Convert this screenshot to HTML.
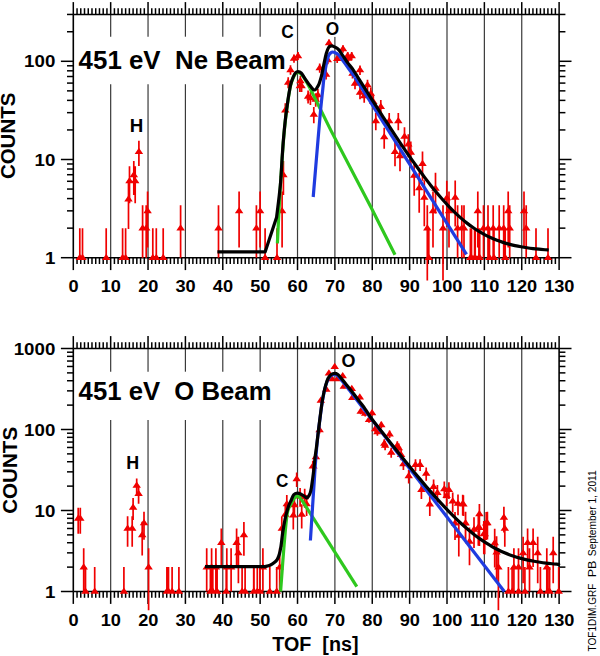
<!DOCTYPE html>
<html><head><meta charset="utf-8"><style>
html,body{margin:0;padding:0;background:#fff;}
svg{display:block;}
</style></head><body>
<svg width="600" height="656" viewBox="0 0 600 656">
<rect width="600" height="656" fill="#fff"/>
<line x1="110.67" y1="14.50" x2="110.67" y2="36.70" stroke="#3a3a3a" stroke-width="1.2"/>
<line x1="110.67" y1="84.20" x2="110.67" y2="257.70" stroke="#3a3a3a" stroke-width="1.2"/>
<line x1="148.04" y1="14.50" x2="148.04" y2="36.70" stroke="#3a3a3a" stroke-width="1.2"/>
<line x1="148.04" y1="84.20" x2="148.04" y2="257.70" stroke="#3a3a3a" stroke-width="1.2"/>
<line x1="185.41" y1="14.50" x2="185.41" y2="36.70" stroke="#3a3a3a" stroke-width="1.2"/>
<line x1="185.41" y1="84.20" x2="185.41" y2="257.70" stroke="#3a3a3a" stroke-width="1.2"/>
<line x1="222.78" y1="14.50" x2="222.78" y2="36.70" stroke="#3a3a3a" stroke-width="1.2"/>
<line x1="222.78" y1="84.20" x2="222.78" y2="257.70" stroke="#3a3a3a" stroke-width="1.2"/>
<line x1="260.15" y1="14.50" x2="260.15" y2="36.70" stroke="#3a3a3a" stroke-width="1.2"/>
<line x1="260.15" y1="84.20" x2="260.15" y2="257.70" stroke="#3a3a3a" stroke-width="1.2"/>
<line x1="297.52" y1="14.50" x2="297.52" y2="257.70" stroke="#3a3a3a" stroke-width="1.2"/>
<line x1="334.89" y1="14.50" x2="334.89" y2="257.70" stroke="#3a3a3a" stroke-width="1.2"/>
<line x1="372.26" y1="14.50" x2="372.26" y2="257.70" stroke="#3a3a3a" stroke-width="1.2"/>
<line x1="409.63" y1="14.50" x2="409.63" y2="257.70" stroke="#3a3a3a" stroke-width="1.2"/>
<line x1="447.00" y1="14.50" x2="447.00" y2="257.70" stroke="#3a3a3a" stroke-width="1.2"/>
<line x1="484.37" y1="14.50" x2="484.37" y2="257.70" stroke="#3a3a3a" stroke-width="1.2"/>
<line x1="521.74" y1="14.50" x2="521.74" y2="257.70" stroke="#3a3a3a" stroke-width="1.2"/>
<line x1="73.30" y1="14.50" x2="73.30" y2="2.10" stroke="#000" stroke-width="1.5"/>
<line x1="73.30" y1="257.70" x2="73.30" y2="270.10" stroke="#000" stroke-width="1.5"/>
<line x1="77.04" y1="14.50" x2="77.04" y2="8.20" stroke="#000" stroke-width="1.5"/>
<line x1="77.04" y1="257.70" x2="77.04" y2="264.00" stroke="#000" stroke-width="1.5"/>
<line x1="80.77" y1="14.50" x2="80.77" y2="8.20" stroke="#000" stroke-width="1.5"/>
<line x1="80.77" y1="257.70" x2="80.77" y2="264.00" stroke="#000" stroke-width="1.5"/>
<line x1="84.51" y1="14.50" x2="84.51" y2="8.20" stroke="#000" stroke-width="1.5"/>
<line x1="84.51" y1="257.70" x2="84.51" y2="264.00" stroke="#000" stroke-width="1.5"/>
<line x1="88.25" y1="14.50" x2="88.25" y2="8.20" stroke="#000" stroke-width="1.5"/>
<line x1="88.25" y1="257.70" x2="88.25" y2="264.00" stroke="#000" stroke-width="1.5"/>
<line x1="91.98" y1="14.50" x2="91.98" y2="8.20" stroke="#000" stroke-width="1.5"/>
<line x1="91.98" y1="257.70" x2="91.98" y2="264.00" stroke="#000" stroke-width="1.5"/>
<line x1="95.72" y1="14.50" x2="95.72" y2="8.20" stroke="#000" stroke-width="1.5"/>
<line x1="95.72" y1="257.70" x2="95.72" y2="264.00" stroke="#000" stroke-width="1.5"/>
<line x1="99.46" y1="14.50" x2="99.46" y2="8.20" stroke="#000" stroke-width="1.5"/>
<line x1="99.46" y1="257.70" x2="99.46" y2="264.00" stroke="#000" stroke-width="1.5"/>
<line x1="103.20" y1="14.50" x2="103.20" y2="8.20" stroke="#000" stroke-width="1.5"/>
<line x1="103.20" y1="257.70" x2="103.20" y2="264.00" stroke="#000" stroke-width="1.5"/>
<line x1="106.93" y1="14.50" x2="106.93" y2="8.20" stroke="#000" stroke-width="1.5"/>
<line x1="106.93" y1="257.70" x2="106.93" y2="264.00" stroke="#000" stroke-width="1.5"/>
<line x1="110.67" y1="14.50" x2="110.67" y2="2.10" stroke="#000" stroke-width="1.5"/>
<line x1="110.67" y1="257.70" x2="110.67" y2="270.10" stroke="#000" stroke-width="1.5"/>
<line x1="114.41" y1="14.50" x2="114.41" y2="8.20" stroke="#000" stroke-width="1.5"/>
<line x1="114.41" y1="257.70" x2="114.41" y2="264.00" stroke="#000" stroke-width="1.5"/>
<line x1="118.14" y1="14.50" x2="118.14" y2="8.20" stroke="#000" stroke-width="1.5"/>
<line x1="118.14" y1="257.70" x2="118.14" y2="264.00" stroke="#000" stroke-width="1.5"/>
<line x1="121.88" y1="14.50" x2="121.88" y2="8.20" stroke="#000" stroke-width="1.5"/>
<line x1="121.88" y1="257.70" x2="121.88" y2="264.00" stroke="#000" stroke-width="1.5"/>
<line x1="125.62" y1="14.50" x2="125.62" y2="8.20" stroke="#000" stroke-width="1.5"/>
<line x1="125.62" y1="257.70" x2="125.62" y2="264.00" stroke="#000" stroke-width="1.5"/>
<line x1="129.35" y1="14.50" x2="129.35" y2="8.20" stroke="#000" stroke-width="1.5"/>
<line x1="129.35" y1="257.70" x2="129.35" y2="264.00" stroke="#000" stroke-width="1.5"/>
<line x1="133.09" y1="14.50" x2="133.09" y2="8.20" stroke="#000" stroke-width="1.5"/>
<line x1="133.09" y1="257.70" x2="133.09" y2="264.00" stroke="#000" stroke-width="1.5"/>
<line x1="136.83" y1="14.50" x2="136.83" y2="8.20" stroke="#000" stroke-width="1.5"/>
<line x1="136.83" y1="257.70" x2="136.83" y2="264.00" stroke="#000" stroke-width="1.5"/>
<line x1="140.57" y1="14.50" x2="140.57" y2="8.20" stroke="#000" stroke-width="1.5"/>
<line x1="140.57" y1="257.70" x2="140.57" y2="264.00" stroke="#000" stroke-width="1.5"/>
<line x1="144.30" y1="14.50" x2="144.30" y2="8.20" stroke="#000" stroke-width="1.5"/>
<line x1="144.30" y1="257.70" x2="144.30" y2="264.00" stroke="#000" stroke-width="1.5"/>
<line x1="148.04" y1="14.50" x2="148.04" y2="2.10" stroke="#000" stroke-width="1.5"/>
<line x1="148.04" y1="257.70" x2="148.04" y2="270.10" stroke="#000" stroke-width="1.5"/>
<line x1="151.78" y1="14.50" x2="151.78" y2="8.20" stroke="#000" stroke-width="1.5"/>
<line x1="151.78" y1="257.70" x2="151.78" y2="264.00" stroke="#000" stroke-width="1.5"/>
<line x1="155.51" y1="14.50" x2="155.51" y2="8.20" stroke="#000" stroke-width="1.5"/>
<line x1="155.51" y1="257.70" x2="155.51" y2="264.00" stroke="#000" stroke-width="1.5"/>
<line x1="159.25" y1="14.50" x2="159.25" y2="8.20" stroke="#000" stroke-width="1.5"/>
<line x1="159.25" y1="257.70" x2="159.25" y2="264.00" stroke="#000" stroke-width="1.5"/>
<line x1="162.99" y1="14.50" x2="162.99" y2="8.20" stroke="#000" stroke-width="1.5"/>
<line x1="162.99" y1="257.70" x2="162.99" y2="264.00" stroke="#000" stroke-width="1.5"/>
<line x1="166.72" y1="14.50" x2="166.72" y2="8.20" stroke="#000" stroke-width="1.5"/>
<line x1="166.72" y1="257.70" x2="166.72" y2="264.00" stroke="#000" stroke-width="1.5"/>
<line x1="170.46" y1="14.50" x2="170.46" y2="8.20" stroke="#000" stroke-width="1.5"/>
<line x1="170.46" y1="257.70" x2="170.46" y2="264.00" stroke="#000" stroke-width="1.5"/>
<line x1="174.20" y1="14.50" x2="174.20" y2="8.20" stroke="#000" stroke-width="1.5"/>
<line x1="174.20" y1="257.70" x2="174.20" y2="264.00" stroke="#000" stroke-width="1.5"/>
<line x1="177.94" y1="14.50" x2="177.94" y2="8.20" stroke="#000" stroke-width="1.5"/>
<line x1="177.94" y1="257.70" x2="177.94" y2="264.00" stroke="#000" stroke-width="1.5"/>
<line x1="181.67" y1="14.50" x2="181.67" y2="8.20" stroke="#000" stroke-width="1.5"/>
<line x1="181.67" y1="257.70" x2="181.67" y2="264.00" stroke="#000" stroke-width="1.5"/>
<line x1="185.41" y1="14.50" x2="185.41" y2="2.10" stroke="#000" stroke-width="1.5"/>
<line x1="185.41" y1="257.70" x2="185.41" y2="270.10" stroke="#000" stroke-width="1.5"/>
<line x1="189.15" y1="14.50" x2="189.15" y2="8.20" stroke="#000" stroke-width="1.5"/>
<line x1="189.15" y1="257.70" x2="189.15" y2="264.00" stroke="#000" stroke-width="1.5"/>
<line x1="192.88" y1="14.50" x2="192.88" y2="8.20" stroke="#000" stroke-width="1.5"/>
<line x1="192.88" y1="257.70" x2="192.88" y2="264.00" stroke="#000" stroke-width="1.5"/>
<line x1="196.62" y1="14.50" x2="196.62" y2="8.20" stroke="#000" stroke-width="1.5"/>
<line x1="196.62" y1="257.70" x2="196.62" y2="264.00" stroke="#000" stroke-width="1.5"/>
<line x1="200.36" y1="14.50" x2="200.36" y2="8.20" stroke="#000" stroke-width="1.5"/>
<line x1="200.36" y1="257.70" x2="200.36" y2="264.00" stroke="#000" stroke-width="1.5"/>
<line x1="204.10" y1="14.50" x2="204.10" y2="8.20" stroke="#000" stroke-width="1.5"/>
<line x1="204.10" y1="257.70" x2="204.10" y2="264.00" stroke="#000" stroke-width="1.5"/>
<line x1="207.83" y1="14.50" x2="207.83" y2="8.20" stroke="#000" stroke-width="1.5"/>
<line x1="207.83" y1="257.70" x2="207.83" y2="264.00" stroke="#000" stroke-width="1.5"/>
<line x1="211.57" y1="14.50" x2="211.57" y2="8.20" stroke="#000" stroke-width="1.5"/>
<line x1="211.57" y1="257.70" x2="211.57" y2="264.00" stroke="#000" stroke-width="1.5"/>
<line x1="215.31" y1="14.50" x2="215.31" y2="8.20" stroke="#000" stroke-width="1.5"/>
<line x1="215.31" y1="257.70" x2="215.31" y2="264.00" stroke="#000" stroke-width="1.5"/>
<line x1="219.04" y1="14.50" x2="219.04" y2="8.20" stroke="#000" stroke-width="1.5"/>
<line x1="219.04" y1="257.70" x2="219.04" y2="264.00" stroke="#000" stroke-width="1.5"/>
<line x1="222.78" y1="14.50" x2="222.78" y2="2.10" stroke="#000" stroke-width="1.5"/>
<line x1="222.78" y1="257.70" x2="222.78" y2="270.10" stroke="#000" stroke-width="1.5"/>
<line x1="226.52" y1="14.50" x2="226.52" y2="8.20" stroke="#000" stroke-width="1.5"/>
<line x1="226.52" y1="257.70" x2="226.52" y2="264.00" stroke="#000" stroke-width="1.5"/>
<line x1="230.25" y1="14.50" x2="230.25" y2="8.20" stroke="#000" stroke-width="1.5"/>
<line x1="230.25" y1="257.70" x2="230.25" y2="264.00" stroke="#000" stroke-width="1.5"/>
<line x1="233.99" y1="14.50" x2="233.99" y2="8.20" stroke="#000" stroke-width="1.5"/>
<line x1="233.99" y1="257.70" x2="233.99" y2="264.00" stroke="#000" stroke-width="1.5"/>
<line x1="237.73" y1="14.50" x2="237.73" y2="8.20" stroke="#000" stroke-width="1.5"/>
<line x1="237.73" y1="257.70" x2="237.73" y2="264.00" stroke="#000" stroke-width="1.5"/>
<line x1="241.46" y1="14.50" x2="241.46" y2="8.20" stroke="#000" stroke-width="1.5"/>
<line x1="241.46" y1="257.70" x2="241.46" y2="264.00" stroke="#000" stroke-width="1.5"/>
<line x1="245.20" y1="14.50" x2="245.20" y2="8.20" stroke="#000" stroke-width="1.5"/>
<line x1="245.20" y1="257.70" x2="245.20" y2="264.00" stroke="#000" stroke-width="1.5"/>
<line x1="248.94" y1="14.50" x2="248.94" y2="8.20" stroke="#000" stroke-width="1.5"/>
<line x1="248.94" y1="257.70" x2="248.94" y2="264.00" stroke="#000" stroke-width="1.5"/>
<line x1="252.68" y1="14.50" x2="252.68" y2="8.20" stroke="#000" stroke-width="1.5"/>
<line x1="252.68" y1="257.70" x2="252.68" y2="264.00" stroke="#000" stroke-width="1.5"/>
<line x1="256.41" y1="14.50" x2="256.41" y2="8.20" stroke="#000" stroke-width="1.5"/>
<line x1="256.41" y1="257.70" x2="256.41" y2="264.00" stroke="#000" stroke-width="1.5"/>
<line x1="260.15" y1="14.50" x2="260.15" y2="2.10" stroke="#000" stroke-width="1.5"/>
<line x1="260.15" y1="257.70" x2="260.15" y2="270.10" stroke="#000" stroke-width="1.5"/>
<line x1="263.89" y1="14.50" x2="263.89" y2="8.20" stroke="#000" stroke-width="1.5"/>
<line x1="263.89" y1="257.70" x2="263.89" y2="264.00" stroke="#000" stroke-width="1.5"/>
<line x1="267.62" y1="14.50" x2="267.62" y2="8.20" stroke="#000" stroke-width="1.5"/>
<line x1="267.62" y1="257.70" x2="267.62" y2="264.00" stroke="#000" stroke-width="1.5"/>
<line x1="271.36" y1="14.50" x2="271.36" y2="8.20" stroke="#000" stroke-width="1.5"/>
<line x1="271.36" y1="257.70" x2="271.36" y2="264.00" stroke="#000" stroke-width="1.5"/>
<line x1="275.10" y1="14.50" x2="275.10" y2="8.20" stroke="#000" stroke-width="1.5"/>
<line x1="275.10" y1="257.70" x2="275.10" y2="264.00" stroke="#000" stroke-width="1.5"/>
<line x1="278.83" y1="14.50" x2="278.83" y2="8.20" stroke="#000" stroke-width="1.5"/>
<line x1="278.83" y1="257.70" x2="278.83" y2="264.00" stroke="#000" stroke-width="1.5"/>
<line x1="282.57" y1="14.50" x2="282.57" y2="8.20" stroke="#000" stroke-width="1.5"/>
<line x1="282.57" y1="257.70" x2="282.57" y2="264.00" stroke="#000" stroke-width="1.5"/>
<line x1="286.31" y1="14.50" x2="286.31" y2="8.20" stroke="#000" stroke-width="1.5"/>
<line x1="286.31" y1="257.70" x2="286.31" y2="264.00" stroke="#000" stroke-width="1.5"/>
<line x1="290.05" y1="14.50" x2="290.05" y2="8.20" stroke="#000" stroke-width="1.5"/>
<line x1="290.05" y1="257.70" x2="290.05" y2="264.00" stroke="#000" stroke-width="1.5"/>
<line x1="293.78" y1="14.50" x2="293.78" y2="8.20" stroke="#000" stroke-width="1.5"/>
<line x1="293.78" y1="257.70" x2="293.78" y2="264.00" stroke="#000" stroke-width="1.5"/>
<line x1="297.52" y1="14.50" x2="297.52" y2="2.10" stroke="#000" stroke-width="1.5"/>
<line x1="297.52" y1="257.70" x2="297.52" y2="270.10" stroke="#000" stroke-width="1.5"/>
<line x1="301.26" y1="14.50" x2="301.26" y2="8.20" stroke="#000" stroke-width="1.5"/>
<line x1="301.26" y1="257.70" x2="301.26" y2="264.00" stroke="#000" stroke-width="1.5"/>
<line x1="304.99" y1="14.50" x2="304.99" y2="8.20" stroke="#000" stroke-width="1.5"/>
<line x1="304.99" y1="257.70" x2="304.99" y2="264.00" stroke="#000" stroke-width="1.5"/>
<line x1="308.73" y1="14.50" x2="308.73" y2="8.20" stroke="#000" stroke-width="1.5"/>
<line x1="308.73" y1="257.70" x2="308.73" y2="264.00" stroke="#000" stroke-width="1.5"/>
<line x1="312.47" y1="14.50" x2="312.47" y2="8.20" stroke="#000" stroke-width="1.5"/>
<line x1="312.47" y1="257.70" x2="312.47" y2="264.00" stroke="#000" stroke-width="1.5"/>
<line x1="316.20" y1="14.50" x2="316.20" y2="8.20" stroke="#000" stroke-width="1.5"/>
<line x1="316.20" y1="257.70" x2="316.20" y2="264.00" stroke="#000" stroke-width="1.5"/>
<line x1="319.94" y1="14.50" x2="319.94" y2="8.20" stroke="#000" stroke-width="1.5"/>
<line x1="319.94" y1="257.70" x2="319.94" y2="264.00" stroke="#000" stroke-width="1.5"/>
<line x1="323.68" y1="14.50" x2="323.68" y2="8.20" stroke="#000" stroke-width="1.5"/>
<line x1="323.68" y1="257.70" x2="323.68" y2="264.00" stroke="#000" stroke-width="1.5"/>
<line x1="327.42" y1="14.50" x2="327.42" y2="8.20" stroke="#000" stroke-width="1.5"/>
<line x1="327.42" y1="257.70" x2="327.42" y2="264.00" stroke="#000" stroke-width="1.5"/>
<line x1="331.15" y1="14.50" x2="331.15" y2="8.20" stroke="#000" stroke-width="1.5"/>
<line x1="331.15" y1="257.70" x2="331.15" y2="264.00" stroke="#000" stroke-width="1.5"/>
<line x1="334.89" y1="14.50" x2="334.89" y2="2.10" stroke="#000" stroke-width="1.5"/>
<line x1="334.89" y1="257.70" x2="334.89" y2="270.10" stroke="#000" stroke-width="1.5"/>
<line x1="338.63" y1="14.50" x2="338.63" y2="8.20" stroke="#000" stroke-width="1.5"/>
<line x1="338.63" y1="257.70" x2="338.63" y2="264.00" stroke="#000" stroke-width="1.5"/>
<line x1="342.36" y1="14.50" x2="342.36" y2="8.20" stroke="#000" stroke-width="1.5"/>
<line x1="342.36" y1="257.70" x2="342.36" y2="264.00" stroke="#000" stroke-width="1.5"/>
<line x1="346.10" y1="14.50" x2="346.10" y2="8.20" stroke="#000" stroke-width="1.5"/>
<line x1="346.10" y1="257.70" x2="346.10" y2="264.00" stroke="#000" stroke-width="1.5"/>
<line x1="349.84" y1="14.50" x2="349.84" y2="8.20" stroke="#000" stroke-width="1.5"/>
<line x1="349.84" y1="257.70" x2="349.84" y2="264.00" stroke="#000" stroke-width="1.5"/>
<line x1="353.58" y1="14.50" x2="353.58" y2="8.20" stroke="#000" stroke-width="1.5"/>
<line x1="353.58" y1="257.70" x2="353.58" y2="264.00" stroke="#000" stroke-width="1.5"/>
<line x1="357.31" y1="14.50" x2="357.31" y2="8.20" stroke="#000" stroke-width="1.5"/>
<line x1="357.31" y1="257.70" x2="357.31" y2="264.00" stroke="#000" stroke-width="1.5"/>
<line x1="361.05" y1="14.50" x2="361.05" y2="8.20" stroke="#000" stroke-width="1.5"/>
<line x1="361.05" y1="257.70" x2="361.05" y2="264.00" stroke="#000" stroke-width="1.5"/>
<line x1="364.79" y1="14.50" x2="364.79" y2="8.20" stroke="#000" stroke-width="1.5"/>
<line x1="364.79" y1="257.70" x2="364.79" y2="264.00" stroke="#000" stroke-width="1.5"/>
<line x1="368.52" y1="14.50" x2="368.52" y2="8.20" stroke="#000" stroke-width="1.5"/>
<line x1="368.52" y1="257.70" x2="368.52" y2="264.00" stroke="#000" stroke-width="1.5"/>
<line x1="372.26" y1="14.50" x2="372.26" y2="2.10" stroke="#000" stroke-width="1.5"/>
<line x1="372.26" y1="257.70" x2="372.26" y2="270.10" stroke="#000" stroke-width="1.5"/>
<line x1="376.00" y1="14.50" x2="376.00" y2="8.20" stroke="#000" stroke-width="1.5"/>
<line x1="376.00" y1="257.70" x2="376.00" y2="264.00" stroke="#000" stroke-width="1.5"/>
<line x1="379.73" y1="14.50" x2="379.73" y2="8.20" stroke="#000" stroke-width="1.5"/>
<line x1="379.73" y1="257.70" x2="379.73" y2="264.00" stroke="#000" stroke-width="1.5"/>
<line x1="383.47" y1="14.50" x2="383.47" y2="8.20" stroke="#000" stroke-width="1.5"/>
<line x1="383.47" y1="257.70" x2="383.47" y2="264.00" stroke="#000" stroke-width="1.5"/>
<line x1="387.21" y1="14.50" x2="387.21" y2="8.20" stroke="#000" stroke-width="1.5"/>
<line x1="387.21" y1="257.70" x2="387.21" y2="264.00" stroke="#000" stroke-width="1.5"/>
<line x1="390.94" y1="14.50" x2="390.94" y2="8.20" stroke="#000" stroke-width="1.5"/>
<line x1="390.94" y1="257.70" x2="390.94" y2="264.00" stroke="#000" stroke-width="1.5"/>
<line x1="394.68" y1="14.50" x2="394.68" y2="8.20" stroke="#000" stroke-width="1.5"/>
<line x1="394.68" y1="257.70" x2="394.68" y2="264.00" stroke="#000" stroke-width="1.5"/>
<line x1="398.42" y1="14.50" x2="398.42" y2="8.20" stroke="#000" stroke-width="1.5"/>
<line x1="398.42" y1="257.70" x2="398.42" y2="264.00" stroke="#000" stroke-width="1.5"/>
<line x1="402.16" y1="14.50" x2="402.16" y2="8.20" stroke="#000" stroke-width="1.5"/>
<line x1="402.16" y1="257.70" x2="402.16" y2="264.00" stroke="#000" stroke-width="1.5"/>
<line x1="405.89" y1="14.50" x2="405.89" y2="8.20" stroke="#000" stroke-width="1.5"/>
<line x1="405.89" y1="257.70" x2="405.89" y2="264.00" stroke="#000" stroke-width="1.5"/>
<line x1="409.63" y1="14.50" x2="409.63" y2="2.10" stroke="#000" stroke-width="1.5"/>
<line x1="409.63" y1="257.70" x2="409.63" y2="270.10" stroke="#000" stroke-width="1.5"/>
<line x1="413.37" y1="14.50" x2="413.37" y2="8.20" stroke="#000" stroke-width="1.5"/>
<line x1="413.37" y1="257.70" x2="413.37" y2="264.00" stroke="#000" stroke-width="1.5"/>
<line x1="417.10" y1="14.50" x2="417.10" y2="8.20" stroke="#000" stroke-width="1.5"/>
<line x1="417.10" y1="257.70" x2="417.10" y2="264.00" stroke="#000" stroke-width="1.5"/>
<line x1="420.84" y1="14.50" x2="420.84" y2="8.20" stroke="#000" stroke-width="1.5"/>
<line x1="420.84" y1="257.70" x2="420.84" y2="264.00" stroke="#000" stroke-width="1.5"/>
<line x1="424.58" y1="14.50" x2="424.58" y2="8.20" stroke="#000" stroke-width="1.5"/>
<line x1="424.58" y1="257.70" x2="424.58" y2="264.00" stroke="#000" stroke-width="1.5"/>
<line x1="428.31" y1="14.50" x2="428.31" y2="8.20" stroke="#000" stroke-width="1.5"/>
<line x1="428.31" y1="257.70" x2="428.31" y2="264.00" stroke="#000" stroke-width="1.5"/>
<line x1="432.05" y1="14.50" x2="432.05" y2="8.20" stroke="#000" stroke-width="1.5"/>
<line x1="432.05" y1="257.70" x2="432.05" y2="264.00" stroke="#000" stroke-width="1.5"/>
<line x1="435.79" y1="14.50" x2="435.79" y2="8.20" stroke="#000" stroke-width="1.5"/>
<line x1="435.79" y1="257.70" x2="435.79" y2="264.00" stroke="#000" stroke-width="1.5"/>
<line x1="439.53" y1="14.50" x2="439.53" y2="8.20" stroke="#000" stroke-width="1.5"/>
<line x1="439.53" y1="257.70" x2="439.53" y2="264.00" stroke="#000" stroke-width="1.5"/>
<line x1="443.26" y1="14.50" x2="443.26" y2="8.20" stroke="#000" stroke-width="1.5"/>
<line x1="443.26" y1="257.70" x2="443.26" y2="264.00" stroke="#000" stroke-width="1.5"/>
<line x1="447.00" y1="14.50" x2="447.00" y2="2.10" stroke="#000" stroke-width="1.5"/>
<line x1="447.00" y1="257.70" x2="447.00" y2="270.10" stroke="#000" stroke-width="1.5"/>
<line x1="450.74" y1="14.50" x2="450.74" y2="8.20" stroke="#000" stroke-width="1.5"/>
<line x1="450.74" y1="257.70" x2="450.74" y2="264.00" stroke="#000" stroke-width="1.5"/>
<line x1="454.47" y1="14.50" x2="454.47" y2="8.20" stroke="#000" stroke-width="1.5"/>
<line x1="454.47" y1="257.70" x2="454.47" y2="264.00" stroke="#000" stroke-width="1.5"/>
<line x1="458.21" y1="14.50" x2="458.21" y2="8.20" stroke="#000" stroke-width="1.5"/>
<line x1="458.21" y1="257.70" x2="458.21" y2="264.00" stroke="#000" stroke-width="1.5"/>
<line x1="461.95" y1="14.50" x2="461.95" y2="8.20" stroke="#000" stroke-width="1.5"/>
<line x1="461.95" y1="257.70" x2="461.95" y2="264.00" stroke="#000" stroke-width="1.5"/>
<line x1="465.69" y1="14.50" x2="465.69" y2="8.20" stroke="#000" stroke-width="1.5"/>
<line x1="465.69" y1="257.70" x2="465.69" y2="264.00" stroke="#000" stroke-width="1.5"/>
<line x1="469.42" y1="14.50" x2="469.42" y2="8.20" stroke="#000" stroke-width="1.5"/>
<line x1="469.42" y1="257.70" x2="469.42" y2="264.00" stroke="#000" stroke-width="1.5"/>
<line x1="473.16" y1="14.50" x2="473.16" y2="8.20" stroke="#000" stroke-width="1.5"/>
<line x1="473.16" y1="257.70" x2="473.16" y2="264.00" stroke="#000" stroke-width="1.5"/>
<line x1="476.90" y1="14.50" x2="476.90" y2="8.20" stroke="#000" stroke-width="1.5"/>
<line x1="476.90" y1="257.70" x2="476.90" y2="264.00" stroke="#000" stroke-width="1.5"/>
<line x1="480.63" y1="14.50" x2="480.63" y2="8.20" stroke="#000" stroke-width="1.5"/>
<line x1="480.63" y1="257.70" x2="480.63" y2="264.00" stroke="#000" stroke-width="1.5"/>
<line x1="484.37" y1="14.50" x2="484.37" y2="2.10" stroke="#000" stroke-width="1.5"/>
<line x1="484.37" y1="257.70" x2="484.37" y2="270.10" stroke="#000" stroke-width="1.5"/>
<line x1="488.11" y1="14.50" x2="488.11" y2="8.20" stroke="#000" stroke-width="1.5"/>
<line x1="488.11" y1="257.70" x2="488.11" y2="264.00" stroke="#000" stroke-width="1.5"/>
<line x1="491.84" y1="14.50" x2="491.84" y2="8.20" stroke="#000" stroke-width="1.5"/>
<line x1="491.84" y1="257.70" x2="491.84" y2="264.00" stroke="#000" stroke-width="1.5"/>
<line x1="495.58" y1="14.50" x2="495.58" y2="8.20" stroke="#000" stroke-width="1.5"/>
<line x1="495.58" y1="257.70" x2="495.58" y2="264.00" stroke="#000" stroke-width="1.5"/>
<line x1="499.32" y1="14.50" x2="499.32" y2="8.20" stroke="#000" stroke-width="1.5"/>
<line x1="499.32" y1="257.70" x2="499.32" y2="264.00" stroke="#000" stroke-width="1.5"/>
<line x1="503.06" y1="14.50" x2="503.06" y2="8.20" stroke="#000" stroke-width="1.5"/>
<line x1="503.06" y1="257.70" x2="503.06" y2="264.00" stroke="#000" stroke-width="1.5"/>
<line x1="506.79" y1="14.50" x2="506.79" y2="8.20" stroke="#000" stroke-width="1.5"/>
<line x1="506.79" y1="257.70" x2="506.79" y2="264.00" stroke="#000" stroke-width="1.5"/>
<line x1="510.53" y1="14.50" x2="510.53" y2="8.20" stroke="#000" stroke-width="1.5"/>
<line x1="510.53" y1="257.70" x2="510.53" y2="264.00" stroke="#000" stroke-width="1.5"/>
<line x1="514.27" y1="14.50" x2="514.27" y2="8.20" stroke="#000" stroke-width="1.5"/>
<line x1="514.27" y1="257.70" x2="514.27" y2="264.00" stroke="#000" stroke-width="1.5"/>
<line x1="518.00" y1="14.50" x2="518.00" y2="8.20" stroke="#000" stroke-width="1.5"/>
<line x1="518.00" y1="257.70" x2="518.00" y2="264.00" stroke="#000" stroke-width="1.5"/>
<line x1="521.74" y1="14.50" x2="521.74" y2="2.10" stroke="#000" stroke-width="1.5"/>
<line x1="521.74" y1="257.70" x2="521.74" y2="270.10" stroke="#000" stroke-width="1.5"/>
<line x1="525.48" y1="14.50" x2="525.48" y2="8.20" stroke="#000" stroke-width="1.5"/>
<line x1="525.48" y1="257.70" x2="525.48" y2="264.00" stroke="#000" stroke-width="1.5"/>
<line x1="529.21" y1="14.50" x2="529.21" y2="8.20" stroke="#000" stroke-width="1.5"/>
<line x1="529.21" y1="257.70" x2="529.21" y2="264.00" stroke="#000" stroke-width="1.5"/>
<line x1="532.95" y1="14.50" x2="532.95" y2="8.20" stroke="#000" stroke-width="1.5"/>
<line x1="532.95" y1="257.70" x2="532.95" y2="264.00" stroke="#000" stroke-width="1.5"/>
<line x1="536.69" y1="14.50" x2="536.69" y2="8.20" stroke="#000" stroke-width="1.5"/>
<line x1="536.69" y1="257.70" x2="536.69" y2="264.00" stroke="#000" stroke-width="1.5"/>
<line x1="540.42" y1="14.50" x2="540.42" y2="8.20" stroke="#000" stroke-width="1.5"/>
<line x1="540.42" y1="257.70" x2="540.42" y2="264.00" stroke="#000" stroke-width="1.5"/>
<line x1="544.16" y1="14.50" x2="544.16" y2="8.20" stroke="#000" stroke-width="1.5"/>
<line x1="544.16" y1="257.70" x2="544.16" y2="264.00" stroke="#000" stroke-width="1.5"/>
<line x1="547.90" y1="14.50" x2="547.90" y2="8.20" stroke="#000" stroke-width="1.5"/>
<line x1="547.90" y1="257.70" x2="547.90" y2="264.00" stroke="#000" stroke-width="1.5"/>
<line x1="551.64" y1="14.50" x2="551.64" y2="8.20" stroke="#000" stroke-width="1.5"/>
<line x1="551.64" y1="257.70" x2="551.64" y2="264.00" stroke="#000" stroke-width="1.5"/>
<line x1="555.37" y1="14.50" x2="555.37" y2="8.20" stroke="#000" stroke-width="1.5"/>
<line x1="555.37" y1="257.70" x2="555.37" y2="264.00" stroke="#000" stroke-width="1.5"/>
<line x1="559.11" y1="14.50" x2="559.11" y2="2.10" stroke="#000" stroke-width="1.5"/>
<line x1="559.11" y1="257.70" x2="559.11" y2="270.10" stroke="#000" stroke-width="1.5"/>
<line x1="73.30" y1="257.70" x2="60.90" y2="257.70" stroke="#000" stroke-width="1.5"/>
<line x1="559.11" y1="257.70" x2="571.51" y2="257.70" stroke="#000" stroke-width="1.5"/>
<line x1="73.30" y1="228.14" x2="67.00" y2="228.14" stroke="#000" stroke-width="1.5"/>
<line x1="559.11" y1="228.14" x2="565.41" y2="228.14" stroke="#000" stroke-width="1.5"/>
<line x1="73.30" y1="210.85" x2="67.00" y2="210.85" stroke="#000" stroke-width="1.5"/>
<line x1="559.11" y1="210.85" x2="565.41" y2="210.85" stroke="#000" stroke-width="1.5"/>
<line x1="73.30" y1="198.58" x2="67.00" y2="198.58" stroke="#000" stroke-width="1.5"/>
<line x1="559.11" y1="198.58" x2="565.41" y2="198.58" stroke="#000" stroke-width="1.5"/>
<line x1="73.30" y1="189.06" x2="67.00" y2="189.06" stroke="#000" stroke-width="1.5"/>
<line x1="559.11" y1="189.06" x2="565.41" y2="189.06" stroke="#000" stroke-width="1.5"/>
<line x1="73.30" y1="181.29" x2="67.00" y2="181.29" stroke="#000" stroke-width="1.5"/>
<line x1="559.11" y1="181.29" x2="565.41" y2="181.29" stroke="#000" stroke-width="1.5"/>
<line x1="73.30" y1="174.71" x2="67.00" y2="174.71" stroke="#000" stroke-width="1.5"/>
<line x1="559.11" y1="174.71" x2="565.41" y2="174.71" stroke="#000" stroke-width="1.5"/>
<line x1="73.30" y1="169.02" x2="67.00" y2="169.02" stroke="#000" stroke-width="1.5"/>
<line x1="559.11" y1="169.02" x2="565.41" y2="169.02" stroke="#000" stroke-width="1.5"/>
<line x1="73.30" y1="163.99" x2="67.00" y2="163.99" stroke="#000" stroke-width="1.5"/>
<line x1="559.11" y1="163.99" x2="565.41" y2="163.99" stroke="#000" stroke-width="1.5"/>
<line x1="73.30" y1="159.50" x2="60.90" y2="159.50" stroke="#000" stroke-width="1.5"/>
<line x1="559.11" y1="159.50" x2="571.51" y2="159.50" stroke="#000" stroke-width="1.5"/>
<line x1="73.30" y1="129.94" x2="67.00" y2="129.94" stroke="#000" stroke-width="1.5"/>
<line x1="559.11" y1="129.94" x2="565.41" y2="129.94" stroke="#000" stroke-width="1.5"/>
<line x1="73.30" y1="112.65" x2="67.00" y2="112.65" stroke="#000" stroke-width="1.5"/>
<line x1="559.11" y1="112.65" x2="565.41" y2="112.65" stroke="#000" stroke-width="1.5"/>
<line x1="73.30" y1="100.38" x2="67.00" y2="100.38" stroke="#000" stroke-width="1.5"/>
<line x1="559.11" y1="100.38" x2="565.41" y2="100.38" stroke="#000" stroke-width="1.5"/>
<line x1="73.30" y1="90.86" x2="67.00" y2="90.86" stroke="#000" stroke-width="1.5"/>
<line x1="559.11" y1="90.86" x2="565.41" y2="90.86" stroke="#000" stroke-width="1.5"/>
<line x1="73.30" y1="83.09" x2="67.00" y2="83.09" stroke="#000" stroke-width="1.5"/>
<line x1="559.11" y1="83.09" x2="565.41" y2="83.09" stroke="#000" stroke-width="1.5"/>
<line x1="73.30" y1="76.51" x2="67.00" y2="76.51" stroke="#000" stroke-width="1.5"/>
<line x1="559.11" y1="76.51" x2="565.41" y2="76.51" stroke="#000" stroke-width="1.5"/>
<line x1="73.30" y1="70.82" x2="67.00" y2="70.82" stroke="#000" stroke-width="1.5"/>
<line x1="559.11" y1="70.82" x2="565.41" y2="70.82" stroke="#000" stroke-width="1.5"/>
<line x1="73.30" y1="65.79" x2="67.00" y2="65.79" stroke="#000" stroke-width="1.5"/>
<line x1="559.11" y1="65.79" x2="565.41" y2="65.79" stroke="#000" stroke-width="1.5"/>
<line x1="73.30" y1="61.30" x2="60.90" y2="61.30" stroke="#000" stroke-width="1.5"/>
<line x1="559.11" y1="61.30" x2="571.51" y2="61.30" stroke="#000" stroke-width="1.5"/>
<line x1="73.30" y1="31.74" x2="67.00" y2="31.74" stroke="#000" stroke-width="1.5"/>
<line x1="559.11" y1="31.74" x2="565.41" y2="31.74" stroke="#000" stroke-width="1.5"/>
<line x1="73.30" y1="14.45" x2="67.00" y2="14.45" stroke="#000" stroke-width="1.5"/>
<line x1="559.11" y1="14.45" x2="565.41" y2="14.45" stroke="#000" stroke-width="1.5"/>
<line x1="73.30" y1="14.50" x2="73.30" y2="257.70" stroke="#000" stroke-width="1.6"/>
<line x1="559.11" y1="14.50" x2="559.11" y2="257.70" stroke="#000" stroke-width="1.6"/>
<line x1="73.30" y1="14.50" x2="559.11" y2="14.50" stroke="#000" stroke-width="1.6"/>
<line x1="73.30" y1="257.70" x2="559.11" y2="257.70" stroke="#000" stroke-width="1.6"/>
<text transform="translate(73.50,291.60) scale(1.07,1)" font-family="Liberation Sans, sans-serif" font-weight="bold" font-size="17" text-anchor="middle">0</text>
<text transform="translate(110.87,291.60) scale(1.07,1)" font-family="Liberation Sans, sans-serif" font-weight="bold" font-size="17" text-anchor="middle">10</text>
<text transform="translate(148.24,291.60) scale(1.07,1)" font-family="Liberation Sans, sans-serif" font-weight="bold" font-size="17" text-anchor="middle">20</text>
<text transform="translate(185.61,291.60) scale(1.07,1)" font-family="Liberation Sans, sans-serif" font-weight="bold" font-size="17" text-anchor="middle">30</text>
<text transform="translate(222.98,291.60) scale(1.07,1)" font-family="Liberation Sans, sans-serif" font-weight="bold" font-size="17" text-anchor="middle">40</text>
<text transform="translate(260.35,291.60) scale(1.07,1)" font-family="Liberation Sans, sans-serif" font-weight="bold" font-size="17" text-anchor="middle">50</text>
<text transform="translate(297.72,291.60) scale(1.07,1)" font-family="Liberation Sans, sans-serif" font-weight="bold" font-size="17" text-anchor="middle">60</text>
<text transform="translate(335.09,291.60) scale(1.07,1)" font-family="Liberation Sans, sans-serif" font-weight="bold" font-size="17" text-anchor="middle">70</text>
<text transform="translate(372.46,291.60) scale(1.07,1)" font-family="Liberation Sans, sans-serif" font-weight="bold" font-size="17" text-anchor="middle">80</text>
<text transform="translate(409.83,291.60) scale(1.07,1)" font-family="Liberation Sans, sans-serif" font-weight="bold" font-size="17" text-anchor="middle">90</text>
<text transform="translate(447.20,291.60) scale(1.07,1)" font-family="Liberation Sans, sans-serif" font-weight="bold" font-size="17" text-anchor="middle">100</text>
<text transform="translate(484.57,291.60) scale(1.07,1)" font-family="Liberation Sans, sans-serif" font-weight="bold" font-size="17" text-anchor="middle">110</text>
<text transform="translate(521.94,291.60) scale(1.07,1)" font-family="Liberation Sans, sans-serif" font-weight="bold" font-size="17" text-anchor="middle">120</text>
<text transform="translate(559.31,291.60) scale(1.07,1)" font-family="Liberation Sans, sans-serif" font-weight="bold" font-size="17" text-anchor="middle">130</text>
<text transform="translate(55.3,263.70) scale(1.1,1)" font-family="Liberation Sans, sans-serif" font-weight="bold" font-size="17" text-anchor="end">1</text>
<text transform="translate(55.3,165.50) scale(1.1,1)" font-family="Liberation Sans, sans-serif" font-weight="bold" font-size="17" text-anchor="end">10</text>
<text transform="translate(55.3,67.30) scale(1.1,1)" font-family="Liberation Sans, sans-serif" font-weight="bold" font-size="17" text-anchor="end">100</text>
<text transform="translate(78.61,68.80) scale(1.0028,1)" font-family="Liberation Sans, sans-serif" font-weight="bold" font-size="25.8">451&#160;eV&#160;&#160;Ne&#160;Beam</text>
<text transform="translate(15.00,179.12) rotate(-90) scale(1.0047,1)" font-family="Liberation Sans, sans-serif" font-weight="bold" font-size="20.4">COUNTS</text>
<line x1="110.67" y1="348.50" x2="110.67" y2="371.70" stroke="#3a3a3a" stroke-width="1.2"/>
<line x1="110.67" y1="420.00" x2="110.67" y2="591.50" stroke="#3a3a3a" stroke-width="1.2"/>
<line x1="148.04" y1="348.50" x2="148.04" y2="371.70" stroke="#3a3a3a" stroke-width="1.2"/>
<line x1="148.04" y1="420.00" x2="148.04" y2="591.50" stroke="#3a3a3a" stroke-width="1.2"/>
<line x1="185.41" y1="348.50" x2="185.41" y2="371.70" stroke="#3a3a3a" stroke-width="1.2"/>
<line x1="185.41" y1="420.00" x2="185.41" y2="591.50" stroke="#3a3a3a" stroke-width="1.2"/>
<line x1="222.78" y1="348.50" x2="222.78" y2="371.70" stroke="#3a3a3a" stroke-width="1.2"/>
<line x1="222.78" y1="420.00" x2="222.78" y2="591.50" stroke="#3a3a3a" stroke-width="1.2"/>
<line x1="260.15" y1="348.50" x2="260.15" y2="371.70" stroke="#3a3a3a" stroke-width="1.2"/>
<line x1="260.15" y1="420.00" x2="260.15" y2="591.50" stroke="#3a3a3a" stroke-width="1.2"/>
<line x1="297.52" y1="348.50" x2="297.52" y2="591.50" stroke="#3a3a3a" stroke-width="1.2"/>
<line x1="334.89" y1="348.50" x2="334.89" y2="591.50" stroke="#3a3a3a" stroke-width="1.2"/>
<line x1="372.26" y1="348.50" x2="372.26" y2="591.50" stroke="#3a3a3a" stroke-width="1.2"/>
<line x1="409.63" y1="348.50" x2="409.63" y2="591.50" stroke="#3a3a3a" stroke-width="1.2"/>
<line x1="447.00" y1="348.50" x2="447.00" y2="591.50" stroke="#3a3a3a" stroke-width="1.2"/>
<line x1="484.37" y1="348.50" x2="484.37" y2="591.50" stroke="#3a3a3a" stroke-width="1.2"/>
<line x1="521.74" y1="348.50" x2="521.74" y2="591.50" stroke="#3a3a3a" stroke-width="1.2"/>
<line x1="73.30" y1="348.50" x2="73.30" y2="336.10" stroke="#000" stroke-width="1.5"/>
<line x1="73.30" y1="591.50" x2="73.30" y2="603.90" stroke="#000" stroke-width="1.5"/>
<line x1="77.04" y1="348.50" x2="77.04" y2="342.20" stroke="#000" stroke-width="1.5"/>
<line x1="77.04" y1="591.50" x2="77.04" y2="597.80" stroke="#000" stroke-width="1.5"/>
<line x1="80.77" y1="348.50" x2="80.77" y2="342.20" stroke="#000" stroke-width="1.5"/>
<line x1="80.77" y1="591.50" x2="80.77" y2="597.80" stroke="#000" stroke-width="1.5"/>
<line x1="84.51" y1="348.50" x2="84.51" y2="342.20" stroke="#000" stroke-width="1.5"/>
<line x1="84.51" y1="591.50" x2="84.51" y2="597.80" stroke="#000" stroke-width="1.5"/>
<line x1="88.25" y1="348.50" x2="88.25" y2="342.20" stroke="#000" stroke-width="1.5"/>
<line x1="88.25" y1="591.50" x2="88.25" y2="597.80" stroke="#000" stroke-width="1.5"/>
<line x1="91.98" y1="348.50" x2="91.98" y2="342.20" stroke="#000" stroke-width="1.5"/>
<line x1="91.98" y1="591.50" x2="91.98" y2="597.80" stroke="#000" stroke-width="1.5"/>
<line x1="95.72" y1="348.50" x2="95.72" y2="342.20" stroke="#000" stroke-width="1.5"/>
<line x1="95.72" y1="591.50" x2="95.72" y2="597.80" stroke="#000" stroke-width="1.5"/>
<line x1="99.46" y1="348.50" x2="99.46" y2="342.20" stroke="#000" stroke-width="1.5"/>
<line x1="99.46" y1="591.50" x2="99.46" y2="597.80" stroke="#000" stroke-width="1.5"/>
<line x1="103.20" y1="348.50" x2="103.20" y2="342.20" stroke="#000" stroke-width="1.5"/>
<line x1="103.20" y1="591.50" x2="103.20" y2="597.80" stroke="#000" stroke-width="1.5"/>
<line x1="106.93" y1="348.50" x2="106.93" y2="342.20" stroke="#000" stroke-width="1.5"/>
<line x1="106.93" y1="591.50" x2="106.93" y2="597.80" stroke="#000" stroke-width="1.5"/>
<line x1="110.67" y1="348.50" x2="110.67" y2="336.10" stroke="#000" stroke-width="1.5"/>
<line x1="110.67" y1="591.50" x2="110.67" y2="603.90" stroke="#000" stroke-width="1.5"/>
<line x1="114.41" y1="348.50" x2="114.41" y2="342.20" stroke="#000" stroke-width="1.5"/>
<line x1="114.41" y1="591.50" x2="114.41" y2="597.80" stroke="#000" stroke-width="1.5"/>
<line x1="118.14" y1="348.50" x2="118.14" y2="342.20" stroke="#000" stroke-width="1.5"/>
<line x1="118.14" y1="591.50" x2="118.14" y2="597.80" stroke="#000" stroke-width="1.5"/>
<line x1="121.88" y1="348.50" x2="121.88" y2="342.20" stroke="#000" stroke-width="1.5"/>
<line x1="121.88" y1="591.50" x2="121.88" y2="597.80" stroke="#000" stroke-width="1.5"/>
<line x1="125.62" y1="348.50" x2="125.62" y2="342.20" stroke="#000" stroke-width="1.5"/>
<line x1="125.62" y1="591.50" x2="125.62" y2="597.80" stroke="#000" stroke-width="1.5"/>
<line x1="129.35" y1="348.50" x2="129.35" y2="342.20" stroke="#000" stroke-width="1.5"/>
<line x1="129.35" y1="591.50" x2="129.35" y2="597.80" stroke="#000" stroke-width="1.5"/>
<line x1="133.09" y1="348.50" x2="133.09" y2="342.20" stroke="#000" stroke-width="1.5"/>
<line x1="133.09" y1="591.50" x2="133.09" y2="597.80" stroke="#000" stroke-width="1.5"/>
<line x1="136.83" y1="348.50" x2="136.83" y2="342.20" stroke="#000" stroke-width="1.5"/>
<line x1="136.83" y1="591.50" x2="136.83" y2="597.80" stroke="#000" stroke-width="1.5"/>
<line x1="140.57" y1="348.50" x2="140.57" y2="342.20" stroke="#000" stroke-width="1.5"/>
<line x1="140.57" y1="591.50" x2="140.57" y2="597.80" stroke="#000" stroke-width="1.5"/>
<line x1="144.30" y1="348.50" x2="144.30" y2="342.20" stroke="#000" stroke-width="1.5"/>
<line x1="144.30" y1="591.50" x2="144.30" y2="597.80" stroke="#000" stroke-width="1.5"/>
<line x1="148.04" y1="348.50" x2="148.04" y2="336.10" stroke="#000" stroke-width="1.5"/>
<line x1="148.04" y1="591.50" x2="148.04" y2="603.90" stroke="#000" stroke-width="1.5"/>
<line x1="151.78" y1="348.50" x2="151.78" y2="342.20" stroke="#000" stroke-width="1.5"/>
<line x1="151.78" y1="591.50" x2="151.78" y2="597.80" stroke="#000" stroke-width="1.5"/>
<line x1="155.51" y1="348.50" x2="155.51" y2="342.20" stroke="#000" stroke-width="1.5"/>
<line x1="155.51" y1="591.50" x2="155.51" y2="597.80" stroke="#000" stroke-width="1.5"/>
<line x1="159.25" y1="348.50" x2="159.25" y2="342.20" stroke="#000" stroke-width="1.5"/>
<line x1="159.25" y1="591.50" x2="159.25" y2="597.80" stroke="#000" stroke-width="1.5"/>
<line x1="162.99" y1="348.50" x2="162.99" y2="342.20" stroke="#000" stroke-width="1.5"/>
<line x1="162.99" y1="591.50" x2="162.99" y2="597.80" stroke="#000" stroke-width="1.5"/>
<line x1="166.72" y1="348.50" x2="166.72" y2="342.20" stroke="#000" stroke-width="1.5"/>
<line x1="166.72" y1="591.50" x2="166.72" y2="597.80" stroke="#000" stroke-width="1.5"/>
<line x1="170.46" y1="348.50" x2="170.46" y2="342.20" stroke="#000" stroke-width="1.5"/>
<line x1="170.46" y1="591.50" x2="170.46" y2="597.80" stroke="#000" stroke-width="1.5"/>
<line x1="174.20" y1="348.50" x2="174.20" y2="342.20" stroke="#000" stroke-width="1.5"/>
<line x1="174.20" y1="591.50" x2="174.20" y2="597.80" stroke="#000" stroke-width="1.5"/>
<line x1="177.94" y1="348.50" x2="177.94" y2="342.20" stroke="#000" stroke-width="1.5"/>
<line x1="177.94" y1="591.50" x2="177.94" y2="597.80" stroke="#000" stroke-width="1.5"/>
<line x1="181.67" y1="348.50" x2="181.67" y2="342.20" stroke="#000" stroke-width="1.5"/>
<line x1="181.67" y1="591.50" x2="181.67" y2="597.80" stroke="#000" stroke-width="1.5"/>
<line x1="185.41" y1="348.50" x2="185.41" y2="336.10" stroke="#000" stroke-width="1.5"/>
<line x1="185.41" y1="591.50" x2="185.41" y2="603.90" stroke="#000" stroke-width="1.5"/>
<line x1="189.15" y1="348.50" x2="189.15" y2="342.20" stroke="#000" stroke-width="1.5"/>
<line x1="189.15" y1="591.50" x2="189.15" y2="597.80" stroke="#000" stroke-width="1.5"/>
<line x1="192.88" y1="348.50" x2="192.88" y2="342.20" stroke="#000" stroke-width="1.5"/>
<line x1="192.88" y1="591.50" x2="192.88" y2="597.80" stroke="#000" stroke-width="1.5"/>
<line x1="196.62" y1="348.50" x2="196.62" y2="342.20" stroke="#000" stroke-width="1.5"/>
<line x1="196.62" y1="591.50" x2="196.62" y2="597.80" stroke="#000" stroke-width="1.5"/>
<line x1="200.36" y1="348.50" x2="200.36" y2="342.20" stroke="#000" stroke-width="1.5"/>
<line x1="200.36" y1="591.50" x2="200.36" y2="597.80" stroke="#000" stroke-width="1.5"/>
<line x1="204.10" y1="348.50" x2="204.10" y2="342.20" stroke="#000" stroke-width="1.5"/>
<line x1="204.10" y1="591.50" x2="204.10" y2="597.80" stroke="#000" stroke-width="1.5"/>
<line x1="207.83" y1="348.50" x2="207.83" y2="342.20" stroke="#000" stroke-width="1.5"/>
<line x1="207.83" y1="591.50" x2="207.83" y2="597.80" stroke="#000" stroke-width="1.5"/>
<line x1="211.57" y1="348.50" x2="211.57" y2="342.20" stroke="#000" stroke-width="1.5"/>
<line x1="211.57" y1="591.50" x2="211.57" y2="597.80" stroke="#000" stroke-width="1.5"/>
<line x1="215.31" y1="348.50" x2="215.31" y2="342.20" stroke="#000" stroke-width="1.5"/>
<line x1="215.31" y1="591.50" x2="215.31" y2="597.80" stroke="#000" stroke-width="1.5"/>
<line x1="219.04" y1="348.50" x2="219.04" y2="342.20" stroke="#000" stroke-width="1.5"/>
<line x1="219.04" y1="591.50" x2="219.04" y2="597.80" stroke="#000" stroke-width="1.5"/>
<line x1="222.78" y1="348.50" x2="222.78" y2="336.10" stroke="#000" stroke-width="1.5"/>
<line x1="222.78" y1="591.50" x2="222.78" y2="603.90" stroke="#000" stroke-width="1.5"/>
<line x1="226.52" y1="348.50" x2="226.52" y2="342.20" stroke="#000" stroke-width="1.5"/>
<line x1="226.52" y1="591.50" x2="226.52" y2="597.80" stroke="#000" stroke-width="1.5"/>
<line x1="230.25" y1="348.50" x2="230.25" y2="342.20" stroke="#000" stroke-width="1.5"/>
<line x1="230.25" y1="591.50" x2="230.25" y2="597.80" stroke="#000" stroke-width="1.5"/>
<line x1="233.99" y1="348.50" x2="233.99" y2="342.20" stroke="#000" stroke-width="1.5"/>
<line x1="233.99" y1="591.50" x2="233.99" y2="597.80" stroke="#000" stroke-width="1.5"/>
<line x1="237.73" y1="348.50" x2="237.73" y2="342.20" stroke="#000" stroke-width="1.5"/>
<line x1="237.73" y1="591.50" x2="237.73" y2="597.80" stroke="#000" stroke-width="1.5"/>
<line x1="241.46" y1="348.50" x2="241.46" y2="342.20" stroke="#000" stroke-width="1.5"/>
<line x1="241.46" y1="591.50" x2="241.46" y2="597.80" stroke="#000" stroke-width="1.5"/>
<line x1="245.20" y1="348.50" x2="245.20" y2="342.20" stroke="#000" stroke-width="1.5"/>
<line x1="245.20" y1="591.50" x2="245.20" y2="597.80" stroke="#000" stroke-width="1.5"/>
<line x1="248.94" y1="348.50" x2="248.94" y2="342.20" stroke="#000" stroke-width="1.5"/>
<line x1="248.94" y1="591.50" x2="248.94" y2="597.80" stroke="#000" stroke-width="1.5"/>
<line x1="252.68" y1="348.50" x2="252.68" y2="342.20" stroke="#000" stroke-width="1.5"/>
<line x1="252.68" y1="591.50" x2="252.68" y2="597.80" stroke="#000" stroke-width="1.5"/>
<line x1="256.41" y1="348.50" x2="256.41" y2="342.20" stroke="#000" stroke-width="1.5"/>
<line x1="256.41" y1="591.50" x2="256.41" y2="597.80" stroke="#000" stroke-width="1.5"/>
<line x1="260.15" y1="348.50" x2="260.15" y2="336.10" stroke="#000" stroke-width="1.5"/>
<line x1="260.15" y1="591.50" x2="260.15" y2="603.90" stroke="#000" stroke-width="1.5"/>
<line x1="263.89" y1="348.50" x2="263.89" y2="342.20" stroke="#000" stroke-width="1.5"/>
<line x1="263.89" y1="591.50" x2="263.89" y2="597.80" stroke="#000" stroke-width="1.5"/>
<line x1="267.62" y1="348.50" x2="267.62" y2="342.20" stroke="#000" stroke-width="1.5"/>
<line x1="267.62" y1="591.50" x2="267.62" y2="597.80" stroke="#000" stroke-width="1.5"/>
<line x1="271.36" y1="348.50" x2="271.36" y2="342.20" stroke="#000" stroke-width="1.5"/>
<line x1="271.36" y1="591.50" x2="271.36" y2="597.80" stroke="#000" stroke-width="1.5"/>
<line x1="275.10" y1="348.50" x2="275.10" y2="342.20" stroke="#000" stroke-width="1.5"/>
<line x1="275.10" y1="591.50" x2="275.10" y2="597.80" stroke="#000" stroke-width="1.5"/>
<line x1="278.83" y1="348.50" x2="278.83" y2="342.20" stroke="#000" stroke-width="1.5"/>
<line x1="278.83" y1="591.50" x2="278.83" y2="597.80" stroke="#000" stroke-width="1.5"/>
<line x1="282.57" y1="348.50" x2="282.57" y2="342.20" stroke="#000" stroke-width="1.5"/>
<line x1="282.57" y1="591.50" x2="282.57" y2="597.80" stroke="#000" stroke-width="1.5"/>
<line x1="286.31" y1="348.50" x2="286.31" y2="342.20" stroke="#000" stroke-width="1.5"/>
<line x1="286.31" y1="591.50" x2="286.31" y2="597.80" stroke="#000" stroke-width="1.5"/>
<line x1="290.05" y1="348.50" x2="290.05" y2="342.20" stroke="#000" stroke-width="1.5"/>
<line x1="290.05" y1="591.50" x2="290.05" y2="597.80" stroke="#000" stroke-width="1.5"/>
<line x1="293.78" y1="348.50" x2="293.78" y2="342.20" stroke="#000" stroke-width="1.5"/>
<line x1="293.78" y1="591.50" x2="293.78" y2="597.80" stroke="#000" stroke-width="1.5"/>
<line x1="297.52" y1="348.50" x2="297.52" y2="336.10" stroke="#000" stroke-width="1.5"/>
<line x1="297.52" y1="591.50" x2="297.52" y2="603.90" stroke="#000" stroke-width="1.5"/>
<line x1="301.26" y1="348.50" x2="301.26" y2="342.20" stroke="#000" stroke-width="1.5"/>
<line x1="301.26" y1="591.50" x2="301.26" y2="597.80" stroke="#000" stroke-width="1.5"/>
<line x1="304.99" y1="348.50" x2="304.99" y2="342.20" stroke="#000" stroke-width="1.5"/>
<line x1="304.99" y1="591.50" x2="304.99" y2="597.80" stroke="#000" stroke-width="1.5"/>
<line x1="308.73" y1="348.50" x2="308.73" y2="342.20" stroke="#000" stroke-width="1.5"/>
<line x1="308.73" y1="591.50" x2="308.73" y2="597.80" stroke="#000" stroke-width="1.5"/>
<line x1="312.47" y1="348.50" x2="312.47" y2="342.20" stroke="#000" stroke-width="1.5"/>
<line x1="312.47" y1="591.50" x2="312.47" y2="597.80" stroke="#000" stroke-width="1.5"/>
<line x1="316.20" y1="348.50" x2="316.20" y2="342.20" stroke="#000" stroke-width="1.5"/>
<line x1="316.20" y1="591.50" x2="316.20" y2="597.80" stroke="#000" stroke-width="1.5"/>
<line x1="319.94" y1="348.50" x2="319.94" y2="342.20" stroke="#000" stroke-width="1.5"/>
<line x1="319.94" y1="591.50" x2="319.94" y2="597.80" stroke="#000" stroke-width="1.5"/>
<line x1="323.68" y1="348.50" x2="323.68" y2="342.20" stroke="#000" stroke-width="1.5"/>
<line x1="323.68" y1="591.50" x2="323.68" y2="597.80" stroke="#000" stroke-width="1.5"/>
<line x1="327.42" y1="348.50" x2="327.42" y2="342.20" stroke="#000" stroke-width="1.5"/>
<line x1="327.42" y1="591.50" x2="327.42" y2="597.80" stroke="#000" stroke-width="1.5"/>
<line x1="331.15" y1="348.50" x2="331.15" y2="342.20" stroke="#000" stroke-width="1.5"/>
<line x1="331.15" y1="591.50" x2="331.15" y2="597.80" stroke="#000" stroke-width="1.5"/>
<line x1="334.89" y1="348.50" x2="334.89" y2="336.10" stroke="#000" stroke-width="1.5"/>
<line x1="334.89" y1="591.50" x2="334.89" y2="603.90" stroke="#000" stroke-width="1.5"/>
<line x1="338.63" y1="348.50" x2="338.63" y2="342.20" stroke="#000" stroke-width="1.5"/>
<line x1="338.63" y1="591.50" x2="338.63" y2="597.80" stroke="#000" stroke-width="1.5"/>
<line x1="342.36" y1="348.50" x2="342.36" y2="342.20" stroke="#000" stroke-width="1.5"/>
<line x1="342.36" y1="591.50" x2="342.36" y2="597.80" stroke="#000" stroke-width="1.5"/>
<line x1="346.10" y1="348.50" x2="346.10" y2="342.20" stroke="#000" stroke-width="1.5"/>
<line x1="346.10" y1="591.50" x2="346.10" y2="597.80" stroke="#000" stroke-width="1.5"/>
<line x1="349.84" y1="348.50" x2="349.84" y2="342.20" stroke="#000" stroke-width="1.5"/>
<line x1="349.84" y1="591.50" x2="349.84" y2="597.80" stroke="#000" stroke-width="1.5"/>
<line x1="353.58" y1="348.50" x2="353.58" y2="342.20" stroke="#000" stroke-width="1.5"/>
<line x1="353.58" y1="591.50" x2="353.58" y2="597.80" stroke="#000" stroke-width="1.5"/>
<line x1="357.31" y1="348.50" x2="357.31" y2="342.20" stroke="#000" stroke-width="1.5"/>
<line x1="357.31" y1="591.50" x2="357.31" y2="597.80" stroke="#000" stroke-width="1.5"/>
<line x1="361.05" y1="348.50" x2="361.05" y2="342.20" stroke="#000" stroke-width="1.5"/>
<line x1="361.05" y1="591.50" x2="361.05" y2="597.80" stroke="#000" stroke-width="1.5"/>
<line x1="364.79" y1="348.50" x2="364.79" y2="342.20" stroke="#000" stroke-width="1.5"/>
<line x1="364.79" y1="591.50" x2="364.79" y2="597.80" stroke="#000" stroke-width="1.5"/>
<line x1="368.52" y1="348.50" x2="368.52" y2="342.20" stroke="#000" stroke-width="1.5"/>
<line x1="368.52" y1="591.50" x2="368.52" y2="597.80" stroke="#000" stroke-width="1.5"/>
<line x1="372.26" y1="348.50" x2="372.26" y2="336.10" stroke="#000" stroke-width="1.5"/>
<line x1="372.26" y1="591.50" x2="372.26" y2="603.90" stroke="#000" stroke-width="1.5"/>
<line x1="376.00" y1="348.50" x2="376.00" y2="342.20" stroke="#000" stroke-width="1.5"/>
<line x1="376.00" y1="591.50" x2="376.00" y2="597.80" stroke="#000" stroke-width="1.5"/>
<line x1="379.73" y1="348.50" x2="379.73" y2="342.20" stroke="#000" stroke-width="1.5"/>
<line x1="379.73" y1="591.50" x2="379.73" y2="597.80" stroke="#000" stroke-width="1.5"/>
<line x1="383.47" y1="348.50" x2="383.47" y2="342.20" stroke="#000" stroke-width="1.5"/>
<line x1="383.47" y1="591.50" x2="383.47" y2="597.80" stroke="#000" stroke-width="1.5"/>
<line x1="387.21" y1="348.50" x2="387.21" y2="342.20" stroke="#000" stroke-width="1.5"/>
<line x1="387.21" y1="591.50" x2="387.21" y2="597.80" stroke="#000" stroke-width="1.5"/>
<line x1="390.94" y1="348.50" x2="390.94" y2="342.20" stroke="#000" stroke-width="1.5"/>
<line x1="390.94" y1="591.50" x2="390.94" y2="597.80" stroke="#000" stroke-width="1.5"/>
<line x1="394.68" y1="348.50" x2="394.68" y2="342.20" stroke="#000" stroke-width="1.5"/>
<line x1="394.68" y1="591.50" x2="394.68" y2="597.80" stroke="#000" stroke-width="1.5"/>
<line x1="398.42" y1="348.50" x2="398.42" y2="342.20" stroke="#000" stroke-width="1.5"/>
<line x1="398.42" y1="591.50" x2="398.42" y2="597.80" stroke="#000" stroke-width="1.5"/>
<line x1="402.16" y1="348.50" x2="402.16" y2="342.20" stroke="#000" stroke-width="1.5"/>
<line x1="402.16" y1="591.50" x2="402.16" y2="597.80" stroke="#000" stroke-width="1.5"/>
<line x1="405.89" y1="348.50" x2="405.89" y2="342.20" stroke="#000" stroke-width="1.5"/>
<line x1="405.89" y1="591.50" x2="405.89" y2="597.80" stroke="#000" stroke-width="1.5"/>
<line x1="409.63" y1="348.50" x2="409.63" y2="336.10" stroke="#000" stroke-width="1.5"/>
<line x1="409.63" y1="591.50" x2="409.63" y2="603.90" stroke="#000" stroke-width="1.5"/>
<line x1="413.37" y1="348.50" x2="413.37" y2="342.20" stroke="#000" stroke-width="1.5"/>
<line x1="413.37" y1="591.50" x2="413.37" y2="597.80" stroke="#000" stroke-width="1.5"/>
<line x1="417.10" y1="348.50" x2="417.10" y2="342.20" stroke="#000" stroke-width="1.5"/>
<line x1="417.10" y1="591.50" x2="417.10" y2="597.80" stroke="#000" stroke-width="1.5"/>
<line x1="420.84" y1="348.50" x2="420.84" y2="342.20" stroke="#000" stroke-width="1.5"/>
<line x1="420.84" y1="591.50" x2="420.84" y2="597.80" stroke="#000" stroke-width="1.5"/>
<line x1="424.58" y1="348.50" x2="424.58" y2="342.20" stroke="#000" stroke-width="1.5"/>
<line x1="424.58" y1="591.50" x2="424.58" y2="597.80" stroke="#000" stroke-width="1.5"/>
<line x1="428.31" y1="348.50" x2="428.31" y2="342.20" stroke="#000" stroke-width="1.5"/>
<line x1="428.31" y1="591.50" x2="428.31" y2="597.80" stroke="#000" stroke-width="1.5"/>
<line x1="432.05" y1="348.50" x2="432.05" y2="342.20" stroke="#000" stroke-width="1.5"/>
<line x1="432.05" y1="591.50" x2="432.05" y2="597.80" stroke="#000" stroke-width="1.5"/>
<line x1="435.79" y1="348.50" x2="435.79" y2="342.20" stroke="#000" stroke-width="1.5"/>
<line x1="435.79" y1="591.50" x2="435.79" y2="597.80" stroke="#000" stroke-width="1.5"/>
<line x1="439.53" y1="348.50" x2="439.53" y2="342.20" stroke="#000" stroke-width="1.5"/>
<line x1="439.53" y1="591.50" x2="439.53" y2="597.80" stroke="#000" stroke-width="1.5"/>
<line x1="443.26" y1="348.50" x2="443.26" y2="342.20" stroke="#000" stroke-width="1.5"/>
<line x1="443.26" y1="591.50" x2="443.26" y2="597.80" stroke="#000" stroke-width="1.5"/>
<line x1="447.00" y1="348.50" x2="447.00" y2="336.10" stroke="#000" stroke-width="1.5"/>
<line x1="447.00" y1="591.50" x2="447.00" y2="603.90" stroke="#000" stroke-width="1.5"/>
<line x1="450.74" y1="348.50" x2="450.74" y2="342.20" stroke="#000" stroke-width="1.5"/>
<line x1="450.74" y1="591.50" x2="450.74" y2="597.80" stroke="#000" stroke-width="1.5"/>
<line x1="454.47" y1="348.50" x2="454.47" y2="342.20" stroke="#000" stroke-width="1.5"/>
<line x1="454.47" y1="591.50" x2="454.47" y2="597.80" stroke="#000" stroke-width="1.5"/>
<line x1="458.21" y1="348.50" x2="458.21" y2="342.20" stroke="#000" stroke-width="1.5"/>
<line x1="458.21" y1="591.50" x2="458.21" y2="597.80" stroke="#000" stroke-width="1.5"/>
<line x1="461.95" y1="348.50" x2="461.95" y2="342.20" stroke="#000" stroke-width="1.5"/>
<line x1="461.95" y1="591.50" x2="461.95" y2="597.80" stroke="#000" stroke-width="1.5"/>
<line x1="465.69" y1="348.50" x2="465.69" y2="342.20" stroke="#000" stroke-width="1.5"/>
<line x1="465.69" y1="591.50" x2="465.69" y2="597.80" stroke="#000" stroke-width="1.5"/>
<line x1="469.42" y1="348.50" x2="469.42" y2="342.20" stroke="#000" stroke-width="1.5"/>
<line x1="469.42" y1="591.50" x2="469.42" y2="597.80" stroke="#000" stroke-width="1.5"/>
<line x1="473.16" y1="348.50" x2="473.16" y2="342.20" stroke="#000" stroke-width="1.5"/>
<line x1="473.16" y1="591.50" x2="473.16" y2="597.80" stroke="#000" stroke-width="1.5"/>
<line x1="476.90" y1="348.50" x2="476.90" y2="342.20" stroke="#000" stroke-width="1.5"/>
<line x1="476.90" y1="591.50" x2="476.90" y2="597.80" stroke="#000" stroke-width="1.5"/>
<line x1="480.63" y1="348.50" x2="480.63" y2="342.20" stroke="#000" stroke-width="1.5"/>
<line x1="480.63" y1="591.50" x2="480.63" y2="597.80" stroke="#000" stroke-width="1.5"/>
<line x1="484.37" y1="348.50" x2="484.37" y2="336.10" stroke="#000" stroke-width="1.5"/>
<line x1="484.37" y1="591.50" x2="484.37" y2="603.90" stroke="#000" stroke-width="1.5"/>
<line x1="488.11" y1="348.50" x2="488.11" y2="342.20" stroke="#000" stroke-width="1.5"/>
<line x1="488.11" y1="591.50" x2="488.11" y2="597.80" stroke="#000" stroke-width="1.5"/>
<line x1="491.84" y1="348.50" x2="491.84" y2="342.20" stroke="#000" stroke-width="1.5"/>
<line x1="491.84" y1="591.50" x2="491.84" y2="597.80" stroke="#000" stroke-width="1.5"/>
<line x1="495.58" y1="348.50" x2="495.58" y2="342.20" stroke="#000" stroke-width="1.5"/>
<line x1="495.58" y1="591.50" x2="495.58" y2="597.80" stroke="#000" stroke-width="1.5"/>
<line x1="499.32" y1="348.50" x2="499.32" y2="342.20" stroke="#000" stroke-width="1.5"/>
<line x1="499.32" y1="591.50" x2="499.32" y2="597.80" stroke="#000" stroke-width="1.5"/>
<line x1="503.06" y1="348.50" x2="503.06" y2="342.20" stroke="#000" stroke-width="1.5"/>
<line x1="503.06" y1="591.50" x2="503.06" y2="597.80" stroke="#000" stroke-width="1.5"/>
<line x1="506.79" y1="348.50" x2="506.79" y2="342.20" stroke="#000" stroke-width="1.5"/>
<line x1="506.79" y1="591.50" x2="506.79" y2="597.80" stroke="#000" stroke-width="1.5"/>
<line x1="510.53" y1="348.50" x2="510.53" y2="342.20" stroke="#000" stroke-width="1.5"/>
<line x1="510.53" y1="591.50" x2="510.53" y2="597.80" stroke="#000" stroke-width="1.5"/>
<line x1="514.27" y1="348.50" x2="514.27" y2="342.20" stroke="#000" stroke-width="1.5"/>
<line x1="514.27" y1="591.50" x2="514.27" y2="597.80" stroke="#000" stroke-width="1.5"/>
<line x1="518.00" y1="348.50" x2="518.00" y2="342.20" stroke="#000" stroke-width="1.5"/>
<line x1="518.00" y1="591.50" x2="518.00" y2="597.80" stroke="#000" stroke-width="1.5"/>
<line x1="521.74" y1="348.50" x2="521.74" y2="336.10" stroke="#000" stroke-width="1.5"/>
<line x1="521.74" y1="591.50" x2="521.74" y2="603.90" stroke="#000" stroke-width="1.5"/>
<line x1="525.48" y1="348.50" x2="525.48" y2="342.20" stroke="#000" stroke-width="1.5"/>
<line x1="525.48" y1="591.50" x2="525.48" y2="597.80" stroke="#000" stroke-width="1.5"/>
<line x1="529.21" y1="348.50" x2="529.21" y2="342.20" stroke="#000" stroke-width="1.5"/>
<line x1="529.21" y1="591.50" x2="529.21" y2="597.80" stroke="#000" stroke-width="1.5"/>
<line x1="532.95" y1="348.50" x2="532.95" y2="342.20" stroke="#000" stroke-width="1.5"/>
<line x1="532.95" y1="591.50" x2="532.95" y2="597.80" stroke="#000" stroke-width="1.5"/>
<line x1="536.69" y1="348.50" x2="536.69" y2="342.20" stroke="#000" stroke-width="1.5"/>
<line x1="536.69" y1="591.50" x2="536.69" y2="597.80" stroke="#000" stroke-width="1.5"/>
<line x1="540.42" y1="348.50" x2="540.42" y2="342.20" stroke="#000" stroke-width="1.5"/>
<line x1="540.42" y1="591.50" x2="540.42" y2="597.80" stroke="#000" stroke-width="1.5"/>
<line x1="544.16" y1="348.50" x2="544.16" y2="342.20" stroke="#000" stroke-width="1.5"/>
<line x1="544.16" y1="591.50" x2="544.16" y2="597.80" stroke="#000" stroke-width="1.5"/>
<line x1="547.90" y1="348.50" x2="547.90" y2="342.20" stroke="#000" stroke-width="1.5"/>
<line x1="547.90" y1="591.50" x2="547.90" y2="597.80" stroke="#000" stroke-width="1.5"/>
<line x1="551.64" y1="348.50" x2="551.64" y2="342.20" stroke="#000" stroke-width="1.5"/>
<line x1="551.64" y1="591.50" x2="551.64" y2="597.80" stroke="#000" stroke-width="1.5"/>
<line x1="555.37" y1="348.50" x2="555.37" y2="342.20" stroke="#000" stroke-width="1.5"/>
<line x1="555.37" y1="591.50" x2="555.37" y2="597.80" stroke="#000" stroke-width="1.5"/>
<line x1="559.11" y1="348.50" x2="559.11" y2="336.10" stroke="#000" stroke-width="1.5"/>
<line x1="559.11" y1="591.50" x2="559.11" y2="603.90" stroke="#000" stroke-width="1.5"/>
<line x1="73.30" y1="591.50" x2="60.90" y2="591.50" stroke="#000" stroke-width="1.5"/>
<line x1="559.11" y1="591.50" x2="571.51" y2="591.50" stroke="#000" stroke-width="1.5"/>
<line x1="73.30" y1="567.12" x2="67.00" y2="567.12" stroke="#000" stroke-width="1.5"/>
<line x1="559.11" y1="567.12" x2="565.41" y2="567.12" stroke="#000" stroke-width="1.5"/>
<line x1="73.30" y1="552.85" x2="67.00" y2="552.85" stroke="#000" stroke-width="1.5"/>
<line x1="559.11" y1="552.85" x2="565.41" y2="552.85" stroke="#000" stroke-width="1.5"/>
<line x1="73.30" y1="542.73" x2="67.00" y2="542.73" stroke="#000" stroke-width="1.5"/>
<line x1="559.11" y1="542.73" x2="565.41" y2="542.73" stroke="#000" stroke-width="1.5"/>
<line x1="73.30" y1="534.88" x2="67.00" y2="534.88" stroke="#000" stroke-width="1.5"/>
<line x1="559.11" y1="534.88" x2="565.41" y2="534.88" stroke="#000" stroke-width="1.5"/>
<line x1="73.30" y1="528.47" x2="67.00" y2="528.47" stroke="#000" stroke-width="1.5"/>
<line x1="559.11" y1="528.47" x2="565.41" y2="528.47" stroke="#000" stroke-width="1.5"/>
<line x1="73.30" y1="523.05" x2="67.00" y2="523.05" stroke="#000" stroke-width="1.5"/>
<line x1="559.11" y1="523.05" x2="565.41" y2="523.05" stroke="#000" stroke-width="1.5"/>
<line x1="73.30" y1="518.35" x2="67.00" y2="518.35" stroke="#000" stroke-width="1.5"/>
<line x1="559.11" y1="518.35" x2="565.41" y2="518.35" stroke="#000" stroke-width="1.5"/>
<line x1="73.30" y1="514.21" x2="67.00" y2="514.21" stroke="#000" stroke-width="1.5"/>
<line x1="559.11" y1="514.21" x2="565.41" y2="514.21" stroke="#000" stroke-width="1.5"/>
<line x1="73.30" y1="510.50" x2="60.90" y2="510.50" stroke="#000" stroke-width="1.5"/>
<line x1="559.11" y1="510.50" x2="571.51" y2="510.50" stroke="#000" stroke-width="1.5"/>
<line x1="73.30" y1="486.12" x2="67.00" y2="486.12" stroke="#000" stroke-width="1.5"/>
<line x1="559.11" y1="486.12" x2="565.41" y2="486.12" stroke="#000" stroke-width="1.5"/>
<line x1="73.30" y1="471.85" x2="67.00" y2="471.85" stroke="#000" stroke-width="1.5"/>
<line x1="559.11" y1="471.85" x2="565.41" y2="471.85" stroke="#000" stroke-width="1.5"/>
<line x1="73.30" y1="461.73" x2="67.00" y2="461.73" stroke="#000" stroke-width="1.5"/>
<line x1="559.11" y1="461.73" x2="565.41" y2="461.73" stroke="#000" stroke-width="1.5"/>
<line x1="73.30" y1="453.88" x2="67.00" y2="453.88" stroke="#000" stroke-width="1.5"/>
<line x1="559.11" y1="453.88" x2="565.41" y2="453.88" stroke="#000" stroke-width="1.5"/>
<line x1="73.30" y1="447.47" x2="67.00" y2="447.47" stroke="#000" stroke-width="1.5"/>
<line x1="559.11" y1="447.47" x2="565.41" y2="447.47" stroke="#000" stroke-width="1.5"/>
<line x1="73.30" y1="442.05" x2="67.00" y2="442.05" stroke="#000" stroke-width="1.5"/>
<line x1="559.11" y1="442.05" x2="565.41" y2="442.05" stroke="#000" stroke-width="1.5"/>
<line x1="73.30" y1="437.35" x2="67.00" y2="437.35" stroke="#000" stroke-width="1.5"/>
<line x1="559.11" y1="437.35" x2="565.41" y2="437.35" stroke="#000" stroke-width="1.5"/>
<line x1="73.30" y1="433.21" x2="67.00" y2="433.21" stroke="#000" stroke-width="1.5"/>
<line x1="559.11" y1="433.21" x2="565.41" y2="433.21" stroke="#000" stroke-width="1.5"/>
<line x1="73.30" y1="429.50" x2="60.90" y2="429.50" stroke="#000" stroke-width="1.5"/>
<line x1="559.11" y1="429.50" x2="571.51" y2="429.50" stroke="#000" stroke-width="1.5"/>
<line x1="73.30" y1="405.12" x2="67.00" y2="405.12" stroke="#000" stroke-width="1.5"/>
<line x1="559.11" y1="405.12" x2="565.41" y2="405.12" stroke="#000" stroke-width="1.5"/>
<line x1="73.30" y1="390.85" x2="67.00" y2="390.85" stroke="#000" stroke-width="1.5"/>
<line x1="559.11" y1="390.85" x2="565.41" y2="390.85" stroke="#000" stroke-width="1.5"/>
<line x1="73.30" y1="380.73" x2="67.00" y2="380.73" stroke="#000" stroke-width="1.5"/>
<line x1="559.11" y1="380.73" x2="565.41" y2="380.73" stroke="#000" stroke-width="1.5"/>
<line x1="73.30" y1="372.88" x2="67.00" y2="372.88" stroke="#000" stroke-width="1.5"/>
<line x1="559.11" y1="372.88" x2="565.41" y2="372.88" stroke="#000" stroke-width="1.5"/>
<line x1="73.30" y1="366.47" x2="67.00" y2="366.47" stroke="#000" stroke-width="1.5"/>
<line x1="559.11" y1="366.47" x2="565.41" y2="366.47" stroke="#000" stroke-width="1.5"/>
<line x1="73.30" y1="361.05" x2="67.00" y2="361.05" stroke="#000" stroke-width="1.5"/>
<line x1="559.11" y1="361.05" x2="565.41" y2="361.05" stroke="#000" stroke-width="1.5"/>
<line x1="73.30" y1="356.35" x2="67.00" y2="356.35" stroke="#000" stroke-width="1.5"/>
<line x1="559.11" y1="356.35" x2="565.41" y2="356.35" stroke="#000" stroke-width="1.5"/>
<line x1="73.30" y1="352.21" x2="67.00" y2="352.21" stroke="#000" stroke-width="1.5"/>
<line x1="559.11" y1="352.21" x2="565.41" y2="352.21" stroke="#000" stroke-width="1.5"/>
<line x1="73.30" y1="348.50" x2="60.90" y2="348.50" stroke="#000" stroke-width="1.5"/>
<line x1="559.11" y1="348.50" x2="571.51" y2="348.50" stroke="#000" stroke-width="1.5"/>
<line x1="73.30" y1="348.50" x2="73.30" y2="591.50" stroke="#000" stroke-width="1.6"/>
<line x1="559.11" y1="348.50" x2="559.11" y2="591.50" stroke="#000" stroke-width="1.6"/>
<line x1="73.30" y1="348.50" x2="559.11" y2="348.50" stroke="#000" stroke-width="1.6"/>
<line x1="73.30" y1="591.50" x2="559.11" y2="591.50" stroke="#000" stroke-width="1.6"/>
<text transform="translate(73.50,625.60) scale(1.07,1)" font-family="Liberation Sans, sans-serif" font-weight="bold" font-size="17" text-anchor="middle">0</text>
<text transform="translate(110.87,625.60) scale(1.07,1)" font-family="Liberation Sans, sans-serif" font-weight="bold" font-size="17" text-anchor="middle">10</text>
<text transform="translate(148.24,625.60) scale(1.07,1)" font-family="Liberation Sans, sans-serif" font-weight="bold" font-size="17" text-anchor="middle">20</text>
<text transform="translate(185.61,625.60) scale(1.07,1)" font-family="Liberation Sans, sans-serif" font-weight="bold" font-size="17" text-anchor="middle">30</text>
<text transform="translate(222.98,625.60) scale(1.07,1)" font-family="Liberation Sans, sans-serif" font-weight="bold" font-size="17" text-anchor="middle">40</text>
<text transform="translate(260.35,625.60) scale(1.07,1)" font-family="Liberation Sans, sans-serif" font-weight="bold" font-size="17" text-anchor="middle">50</text>
<text transform="translate(297.72,625.60) scale(1.07,1)" font-family="Liberation Sans, sans-serif" font-weight="bold" font-size="17" text-anchor="middle">60</text>
<text transform="translate(335.09,625.60) scale(1.07,1)" font-family="Liberation Sans, sans-serif" font-weight="bold" font-size="17" text-anchor="middle">70</text>
<text transform="translate(372.46,625.60) scale(1.07,1)" font-family="Liberation Sans, sans-serif" font-weight="bold" font-size="17" text-anchor="middle">80</text>
<text transform="translate(409.83,625.60) scale(1.07,1)" font-family="Liberation Sans, sans-serif" font-weight="bold" font-size="17" text-anchor="middle">90</text>
<text transform="translate(447.20,625.60) scale(1.07,1)" font-family="Liberation Sans, sans-serif" font-weight="bold" font-size="17" text-anchor="middle">100</text>
<text transform="translate(484.57,625.60) scale(1.07,1)" font-family="Liberation Sans, sans-serif" font-weight="bold" font-size="17" text-anchor="middle">110</text>
<text transform="translate(521.94,625.60) scale(1.07,1)" font-family="Liberation Sans, sans-serif" font-weight="bold" font-size="17" text-anchor="middle">120</text>
<text transform="translate(559.31,625.60) scale(1.07,1)" font-family="Liberation Sans, sans-serif" font-weight="bold" font-size="17" text-anchor="middle">130</text>
<text transform="translate(55.3,597.50) scale(1.1,1)" font-family="Liberation Sans, sans-serif" font-weight="bold" font-size="17" text-anchor="end">1</text>
<text transform="translate(55.3,516.50) scale(1.1,1)" font-family="Liberation Sans, sans-serif" font-weight="bold" font-size="17" text-anchor="end">10</text>
<text transform="translate(55.3,435.50) scale(1.1,1)" font-family="Liberation Sans, sans-serif" font-weight="bold" font-size="17" text-anchor="end">100</text>
<text transform="translate(55.3,354.50) scale(1.1,1)" font-family="Liberation Sans, sans-serif" font-weight="bold" font-size="17" text-anchor="end">1000</text>
<text transform="translate(78.61,399.80) scale(0.9962,1)" font-family="Liberation Sans, sans-serif" font-weight="bold" font-size="25.8">451&#160;eV&#160;&#160;O&#160;Beam</text>
<text transform="translate(16.60,513.82) rotate(-90) scale(1.0106,1)" font-family="Liberation Sans, sans-serif" font-weight="bold" font-size="20.4">COUNTS</text>
<text transform="translate(272.30,650.80) scale(1.0125,1)" font-family="Liberation Sans, sans-serif" font-weight="bold" font-size="19.5">TOF&#160;&#160;[ns]</text>
<text transform="translate(596.10,651.53) rotate(-90) scale(0.9680,1)" font-family="Liberation Sans, sans-serif" font-weight="normal" font-size="10.4">TOF1DIM.GRF</text>
<text transform="translate(596.10,577.23) rotate(-90) scale(1.2019,1)" font-family="Liberation Sans, sans-serif" font-weight="normal" font-size="10.4">PB</text>
<text transform="translate(596.10,556.16) rotate(-90) scale(0.9803,1)" font-family="Liberation Sans, sans-serif" font-weight="normal" font-size="10.4">September&#160;1,&#160;2011</text>
<path d="M79.80,228.14V257.70M82.50,228.14V257.70M106.20,228.14V257.70M122.60,228.14V257.70M125.60,228.14V257.70M128.50,181.72V228.92M129.50,166.36V203.14M133.80,161.11V195.07M135.20,166.36V203.14M138.90,140.80V166.10M142.60,205.33V257.70M146.20,205.33V257.70M147.60,191.41V247.58M152.80,228.14V257.70M156.30,228.14V257.70M163.20,228.14V257.70M180.60,205.33V257.70M218.50,205.33V257.70M239.10,191.41V247.58M256.40,205.33V257.70M260.10,191.41V247.58M265.10,228.14V257.70M277.00,228.14V257.70M282.10,191.41V247.58M283.40,161.11V195.07M285.30,103.14V118.42M288.20,77.36V88.35M290.50,65.33V74.79M294.00,54.47V62.74M298.00,51.98V60.00M300.40,75.85V86.64M299.80,80.65V92.12M301.60,80.65V92.12M308.10,90.41V103.38M310.40,91.81V105.01M313.80,107.11V123.20M315.70,93.30V106.76M317.90,88.91V101.64M319.70,63.43V72.67M326.10,69.60V79.58M327.80,55.80V64.21M329.00,39.59V46.48M337.20,54.66V62.95M343.00,45.27V52.65M347.70,51.88V59.89M351.70,51.98V60.00M348.30,54.37V62.63M352.50,68.65V78.52M355.00,78.11V89.21M360.00,65.52V75.01M367.50,79.71V91.04M360.00,86.76V99.14M364.20,89.84V102.72M370.80,87.51V100.01M373.30,95.35V109.17M380.80,99.99V114.66M375.80,112.99V130.36M389.20,112.99V130.36M398.30,112.99V130.36M384.20,127.73V148.87M404.50,127.27V148.29M408.30,134.20V157.29M395.00,140.89V166.22M400.00,144.52V171.18M410.80,141.60V167.19M422.50,151.38V180.79M414.20,161.55V195.73M419.20,172.40V212.86M424.30,180.22V226.23M435.50,172.82V213.56M446.80,180.64V226.98M455.20,180.39V226.53M433.00,191.41V247.58M427.30,205.33V280.50M443.00,205.33V280.50M449.00,191.41V247.58M457.60,205.33V257.70M461.80,205.33V257.70M464.00,205.33V257.70M477.80,191.41V247.58M428.80,228.14V257.70M470.40,228.14V257.70M474.60,228.14V257.70M478.90,228.14V257.70M483.50,205.33V257.70M488.00,205.33V257.70M493.20,205.33V257.70M499.20,205.33V257.70M503.70,205.33V257.70M508.20,191.41V247.58M509.70,205.33V257.70M524.00,191.41V247.58M526.20,205.33V257.70M471.50,228.14V257.70M475.20,228.14V257.70M479.70,228.14V257.70M489.50,228.14V257.70M494.00,228.14V257.70M505.20,228.14V257.70M536.00,228.14V257.70M548.00,228.14V257.70" stroke="#f00000" stroke-width="1.7" fill="none"/>
<path d="M79.80,253.80L84.05,260.05L75.55,260.05ZM82.50,253.80L86.75,260.05L78.25,260.05ZM106.20,253.80L110.45,260.05L101.95,260.05ZM122.60,253.80L126.85,260.05L118.35,260.05ZM125.60,253.80L129.85,260.05L121.35,260.05ZM128.50,195.20L132.75,201.45L124.25,201.45ZM129.50,177.00L133.75,183.25L125.25,183.25ZM133.80,170.90L138.05,177.15L129.55,177.15ZM135.20,177.00L139.45,183.25L130.95,183.25ZM138.90,147.70L143.15,153.95L134.65,153.95ZM142.60,224.24L146.85,230.49L138.35,230.49ZM146.20,224.24L150.45,230.49L141.95,230.49ZM147.60,206.95L151.85,213.20L143.35,213.20ZM152.80,253.80L157.05,260.05L148.55,260.05ZM156.30,253.80L160.55,260.05L152.05,260.05ZM163.20,253.80L167.45,260.05L158.95,260.05ZM180.60,224.24L184.85,230.49L176.35,230.49ZM218.50,224.24L222.75,230.49L214.25,230.49ZM239.10,206.95L243.35,213.20L234.85,213.20ZM256.40,224.24L260.65,230.49L252.15,230.49ZM260.10,206.95L264.35,213.20L255.85,213.20ZM265.10,253.80L269.35,260.05L260.85,260.05ZM277.00,253.80L281.25,260.05L272.75,260.05ZM282.10,206.95L286.35,213.20L277.85,213.20ZM283.40,170.90L287.65,177.15L279.15,177.15ZM285.30,106.20L289.55,112.45L281.05,112.45ZM288.20,78.60L292.45,84.85L283.95,84.85ZM290.50,65.90L294.75,72.15L286.25,72.15ZM294.00,54.50L298.25,60.75L289.75,60.75ZM298.00,51.90L302.25,58.15L293.75,58.15ZM300.40,77.00L304.65,83.25L296.15,83.25ZM299.80,82.10L304.05,88.35L295.55,88.35ZM301.60,82.10L305.85,88.35L297.35,88.35ZM308.10,92.50L312.35,98.75L303.85,98.75ZM310.40,94.00L314.65,100.25L306.15,100.25ZM313.80,110.50L318.05,116.75L309.55,116.75ZM315.70,95.60L319.95,101.85L311.45,101.85ZM317.90,90.90L322.15,97.15L313.65,97.15ZM319.70,63.90L323.95,70.15L315.45,70.15ZM326.10,70.40L330.35,76.65L321.85,76.65ZM327.80,55.90L332.05,62.15L323.55,62.15ZM329.00,39.00L333.25,45.25L324.75,45.25ZM337.20,54.70L341.45,60.95L332.95,60.95ZM343.00,44.90L347.25,51.15L338.75,51.15ZM347.70,51.80L351.95,58.05L343.45,58.05ZM351.70,51.90L355.95,58.15L347.45,58.15ZM348.30,54.40L352.55,60.65L344.05,60.65ZM352.50,69.40L356.75,75.65L348.25,75.65ZM355.00,79.40L359.25,85.65L350.75,85.65ZM360.00,66.10L364.25,72.35L355.75,72.35ZM367.50,81.10L371.75,87.35L363.25,87.35ZM360.00,88.60L364.25,94.85L355.75,94.85ZM364.20,91.90L368.45,98.15L359.95,98.15ZM370.80,89.40L375.05,95.65L366.55,95.65ZM373.30,97.80L377.55,104.05L369.05,104.05ZM380.80,102.80L385.05,109.05L376.55,109.05ZM375.80,116.90L380.05,123.15L371.55,123.15ZM389.20,116.90L393.45,123.15L384.95,123.15ZM398.30,116.90L402.55,123.15L394.05,123.15ZM384.20,133.10L388.45,139.35L379.95,139.35ZM404.50,132.60L408.75,138.85L400.25,138.85ZM408.30,140.30L412.55,146.55L404.05,146.55ZM395.00,147.80L399.25,154.05L390.75,154.05ZM400.00,151.90L404.25,158.15L395.75,158.15ZM410.80,148.60L415.05,154.85L406.55,154.85ZM422.50,159.70L426.75,165.95L418.25,165.95ZM414.20,171.40L418.45,177.65L409.95,177.65ZM419.20,184.10L423.45,190.35L414.95,190.35ZM424.30,193.40L428.55,199.65L420.05,199.65ZM435.50,184.60L439.75,190.85L431.25,190.85ZM446.80,193.90L451.05,200.15L442.55,200.15ZM455.20,193.60L459.45,199.85L450.95,199.85ZM433.00,206.95L437.25,213.20L428.75,213.20ZM427.30,224.24L431.55,230.49L423.05,230.49ZM443.00,224.24L447.25,230.49L438.75,230.49ZM449.00,206.95L453.25,213.20L444.75,213.20ZM457.60,224.24L461.85,230.49L453.35,230.49ZM461.80,224.24L466.05,230.49L457.55,230.49ZM464.00,224.24L468.25,230.49L459.75,230.49ZM477.80,206.95L482.05,213.20L473.55,213.20ZM428.80,253.80L433.05,260.05L424.55,260.05ZM470.40,253.80L474.65,260.05L466.15,260.05ZM474.60,253.80L478.85,260.05L470.35,260.05ZM478.90,253.80L483.15,260.05L474.65,260.05ZM483.50,224.24L487.75,230.49L479.25,230.49ZM488.00,224.24L492.25,230.49L483.75,230.49ZM493.20,224.24L497.45,230.49L488.95,230.49ZM499.20,224.24L503.45,230.49L494.95,230.49ZM503.70,224.24L507.95,230.49L499.45,230.49ZM508.20,206.95L512.45,213.20L503.95,213.20ZM509.70,224.24L513.95,230.49L505.45,230.49ZM524.00,206.95L528.25,213.20L519.75,213.20ZM526.20,224.24L530.45,230.49L521.95,230.49ZM471.50,253.80L475.75,260.05L467.25,260.05ZM475.20,253.80L479.45,260.05L470.95,260.05ZM479.70,253.80L483.95,260.05L475.45,260.05ZM489.50,253.80L493.75,260.05L485.25,260.05ZM494.00,253.80L498.25,260.05L489.75,260.05ZM505.20,253.80L509.45,260.05L500.95,260.05ZM536.00,253.80L540.25,260.05L531.75,260.05ZM548.00,253.80L552.25,260.05L543.75,260.05Z" fill="#f00000"/>
<path d="M78.20,507.74V533.76M80.30,507.74V533.76M83.70,548.30V591.50M85.50,567.12V591.50M94.70,567.12V591.50M123.90,567.12V591.50M127.60,516.37V546.83M132.20,516.37V546.83M133.10,498.10V520.08M136.70,478.46V494.32M138.60,485.88V503.78M144.00,511.73V539.69M142.20,521.81V555.62M148.60,548.30V610.30M166.90,567.12V591.50M168.50,567.12V591.50M172.10,567.12V591.50M178.90,567.12V591.50M206.70,548.30V591.50M210.40,567.12V591.50M211.60,548.30V591.50M212.80,567.12V591.50M215.90,548.30V591.50M217.10,567.12V591.50M221.30,528.47V567.12M226.20,567.12V591.50M226.80,548.30V591.50M231.10,548.30V591.50M236.60,528.47V567.12M238.40,536.82V583.15M242.10,567.12V591.50M243.90,521.88V555.74M245.10,567.12V591.50M253.70,567.12V591.50M254.00,567.12V591.50M257.30,567.12V591.50M259.90,567.12V591.50M262.90,548.30V591.50M269.80,567.12V591.50M276.70,567.12V591.50M279.70,548.30V591.50M281.80,516.45V546.97M286.80,495.09V515.96M285.30,504.17V528.59M293.30,504.87V529.59M294.40,495.80V516.93M301.70,504.17V528.59M306.60,495.09V515.96M300.10,488.12V506.70M304.70,488.84V507.64M296.70,472.52V486.94M312.80,460.72V472.69M313.40,460.72V472.69M315.90,452.15V462.63M319.60,426.43V433.52M320.80,398.24V402.91M326.30,387.56V391.55M328.90,371.56V374.71M334.70,365.29V368.17M332.10,377.32V380.76M337.40,377.32V380.76M342.70,374.20V377.48M343.80,384.54V388.36M351.80,386.69V390.62M352.30,395.43V399.91M359.80,394.95V399.39M360.80,408.88V414.33M353.80,394.66V399.08M360.70,408.68V414.13M365.20,410.80V416.42M372.10,410.13V415.69M369.00,416.67V422.80M375.20,425.48V432.47M377.40,428.34V435.64M381.30,421.85V428.47M389.60,430.53V438.07M385.10,441.34V450.22M384.30,439.26V447.86M391.20,447.84V457.64M397.30,441.34V450.22M398.80,443.51V452.69M401.10,450.00V460.13M403.40,458.49V470.05M415.50,459.24V470.93M420.10,459.24V470.93M408.70,469.77V483.57M426.20,467.47V480.78M421.40,482.18V499.02M433.60,479.46V495.57M437.40,484.98V502.61M444.30,481.54V498.21M448.90,482.18V499.02M429.80,495.18V516.09M446.60,487.68V506.11M452.70,492.51V512.49M458.00,494.55V515.24M463.40,495.18V516.09M455.00,511.90V539.95M465.60,511.90V539.95M479.40,503.91V528.21M479.40,515.77V545.89M474.00,517.14V548.05M486.20,511.90V539.95M484.70,520.96V554.22M458.80,522.32V556.46M469.50,527.44V565.28M462.70,494.82V515.60M465.50,511.64V539.56M478.30,515.60V545.63M487.40,511.64V539.56M483.80,521.05V554.36M494.70,528.69V567.52M496.60,536.29V582.05M498.40,548.30V610.30M503.90,506.87V532.49M504.80,516.37V546.83M508.40,567.12V591.50M512.10,567.12V591.50M513.90,548.30V591.50M518.50,548.30V591.50M518.50,567.12V591.50M523.10,536.82V583.15M524.90,567.12V591.50M527.60,528.47V567.12M533.10,528.47V567.12M529.50,548.30V591.50M537.70,536.82V583.15M540.40,567.12V591.50M546.80,548.30V591.50M547.80,567.12V591.50M553.20,536.82V583.15M558.70,567.12V591.50M549.60,567.12V591.50" stroke="#f00000" stroke-width="1.7" fill="none"/>
<path d="M78.20,514.50L82.45,520.75L73.95,520.75ZM80.30,514.50L84.55,520.75L76.05,520.75ZM83.70,563.22L87.95,569.47L79.45,569.47ZM85.50,587.60L89.75,593.85L81.25,593.85ZM94.70,587.60L98.95,593.85L90.45,593.85ZM123.90,587.60L128.15,593.85L119.65,593.85ZM127.60,524.50L131.85,530.75L123.35,530.75ZM132.20,524.50L136.45,530.75L127.95,530.75ZM133.10,503.50L137.35,509.75L128.85,509.75ZM136.70,481.60L140.95,487.85L132.45,487.85ZM138.60,489.80L142.85,496.05L134.35,496.05ZM144.00,519.10L148.25,525.35L139.75,525.35ZM142.20,530.90L146.45,537.15L137.95,537.15ZM148.60,563.22L152.85,569.47L144.35,569.47ZM166.90,587.60L171.15,593.85L162.65,593.85ZM168.50,587.60L172.75,593.85L164.25,593.85ZM172.10,587.60L176.35,593.85L167.85,593.85ZM178.90,587.60L183.15,593.85L174.65,593.85ZM206.70,563.22L210.95,569.47L202.45,569.47ZM210.40,587.60L214.65,593.85L206.15,593.85ZM211.60,563.22L215.85,569.47L207.35,569.47ZM212.80,587.60L217.05,593.85L208.55,593.85ZM215.90,563.22L220.15,569.47L211.65,569.47ZM217.10,587.60L221.35,593.85L212.85,593.85ZM221.30,538.83L225.55,545.08L217.05,545.08ZM226.20,587.60L230.45,593.85L221.95,593.85ZM226.80,563.22L231.05,569.47L222.55,569.47ZM231.10,563.22L235.35,569.47L226.85,569.47ZM236.60,538.83L240.85,545.08L232.35,545.08ZM238.40,548.95L242.65,555.20L234.15,555.20ZM242.10,587.60L246.35,593.85L237.85,593.85ZM243.90,530.98L248.15,537.23L239.65,537.23ZM245.10,587.60L249.35,593.85L240.85,593.85ZM253.70,587.60L257.95,593.85L249.45,593.85ZM254.00,587.60L258.25,593.85L249.75,593.85ZM257.30,587.60L261.55,593.85L253.05,593.85ZM259.90,587.60L264.15,593.85L255.65,593.85ZM262.90,563.22L267.15,569.47L258.65,569.47ZM269.80,587.60L274.05,593.85L265.55,593.85ZM276.70,587.60L280.95,593.85L272.45,593.85ZM279.70,563.22L283.95,569.47L275.45,569.47ZM281.80,524.60L286.05,530.85L277.55,530.85ZM286.80,500.10L291.05,506.35L282.55,506.35ZM285.30,510.40L289.55,516.65L281.05,516.65ZM293.30,511.20L297.55,517.45L289.05,517.45ZM294.40,500.90L298.65,507.15L290.15,507.15ZM301.70,510.40L305.95,516.65L297.45,516.65ZM306.60,500.10L310.85,506.35L302.35,506.35ZM300.10,492.30L304.35,498.55L295.85,498.55ZM304.70,493.10L308.95,499.35L300.45,499.35ZM296.70,475.10L300.95,481.35L292.45,481.35ZM312.80,462.30L317.05,468.55L308.55,468.55ZM313.40,462.30L317.65,468.55L309.15,468.55ZM315.90,453.10L320.15,459.35L311.65,459.35ZM319.60,425.90L323.85,432.15L315.35,432.15ZM320.80,396.60L325.05,402.85L316.55,402.85ZM326.30,385.60L330.55,391.85L322.05,391.85ZM328.90,369.20L333.15,375.45L324.65,375.45ZM334.70,362.80L338.95,369.05L330.45,369.05ZM332.10,375.10L336.35,381.35L327.85,381.35ZM337.40,375.10L341.65,381.35L333.15,381.35ZM342.70,371.90L346.95,378.15L338.45,378.15ZM343.80,382.50L348.05,388.75L339.55,388.75ZM351.80,384.70L356.05,390.95L347.55,390.95ZM352.30,393.70L356.55,399.95L348.05,399.95ZM359.80,393.20L364.05,399.45L355.55,399.45ZM360.80,407.60L365.05,413.85L356.55,413.85ZM353.80,392.90L358.05,399.15L349.55,399.15ZM360.70,407.40L364.95,413.65L356.45,413.65ZM365.20,409.60L369.45,415.85L360.95,415.85ZM372.10,408.90L376.35,415.15L367.85,415.15ZM369.00,415.70L373.25,421.95L364.75,421.95ZM375.20,424.90L379.45,431.15L370.95,431.15ZM377.40,427.90L381.65,434.15L373.15,434.15ZM381.30,421.10L385.55,427.35L377.05,427.35ZM389.60,430.20L393.85,436.45L385.35,436.45ZM385.10,441.60L389.35,447.85L380.85,447.85ZM384.30,439.40L388.55,445.65L380.05,445.65ZM391.20,448.50L395.45,454.75L386.95,454.75ZM397.30,441.60L401.55,447.85L393.05,447.85ZM398.80,443.90L403.05,450.15L394.55,450.15ZM401.10,450.80L405.35,457.05L396.85,457.05ZM403.40,459.90L407.65,466.15L399.15,466.15ZM415.50,460.70L419.75,466.95L411.25,466.95ZM420.10,460.70L424.35,466.95L415.85,466.95ZM408.70,472.10L412.95,478.35L404.45,478.35ZM426.20,469.60L430.45,475.85L421.95,475.85ZM421.40,485.70L425.65,491.95L417.15,491.95ZM433.60,482.70L437.85,488.95L429.35,488.95ZM437.40,488.80L441.65,495.05L433.15,495.05ZM444.30,485.00L448.55,491.25L440.05,491.25ZM448.90,485.70L453.15,491.95L444.65,491.95ZM429.80,500.20L434.05,506.45L425.55,506.45ZM446.60,491.80L450.85,498.05L442.35,498.05ZM452.70,497.20L456.95,503.45L448.45,503.45ZM458.00,499.50L462.25,505.75L453.75,505.75ZM463.40,500.20L467.65,506.45L459.15,506.45ZM455.00,519.30L459.25,525.55L450.75,525.55ZM465.60,519.30L469.85,525.55L461.35,525.55ZM479.40,510.10L483.65,516.35L475.15,516.35ZM479.40,523.80L483.65,530.05L475.15,530.05ZM474.00,525.40L478.25,531.65L469.75,531.65ZM486.20,519.30L490.45,525.55L481.95,525.55ZM484.70,529.90L488.95,536.15L480.45,536.15ZM458.80,531.50L463.05,537.75L454.55,537.75ZM469.50,537.60L473.75,543.85L465.25,543.85ZM462.70,499.80L466.95,506.05L458.45,506.05ZM465.50,519.00L469.75,525.25L461.25,525.25ZM478.30,523.60L482.55,529.85L474.05,529.85ZM487.40,519.00L491.65,525.25L483.15,525.25ZM483.80,530.00L488.05,536.25L479.55,536.25ZM494.70,539.10L498.95,545.35L490.45,545.35ZM496.60,548.30L500.85,554.55L492.35,554.55ZM498.40,563.22L502.65,569.47L494.15,569.47ZM503.90,513.50L508.15,519.75L499.65,519.75ZM504.80,524.50L509.05,530.75L500.55,530.75ZM508.40,587.60L512.65,593.85L504.15,593.85ZM512.10,587.60L516.35,593.85L507.85,593.85ZM513.90,563.22L518.15,569.47L509.65,569.47ZM518.50,563.22L522.75,569.47L514.25,569.47ZM518.50,587.60L522.75,593.85L514.25,593.85ZM523.10,548.95L527.35,555.20L518.85,555.20ZM524.90,587.60L529.15,593.85L520.65,593.85ZM527.60,538.83L531.85,545.08L523.35,545.08ZM533.10,538.83L537.35,545.08L528.85,545.08ZM529.50,563.22L533.75,569.47L525.25,569.47ZM537.70,548.95L541.95,555.20L533.45,555.20ZM540.40,587.60L544.65,593.85L536.15,593.85ZM546.80,563.22L551.05,569.47L542.55,569.47ZM547.80,587.60L552.05,593.85L543.55,593.85ZM553.20,548.95L557.45,555.20L548.95,555.20ZM558.70,587.60L562.95,593.85L554.45,593.85ZM549.60,587.60L553.85,593.85L545.35,593.85Z" fill="#f00000"/>
<path d="M277.40,243.30 L278.70,215.90 C278.98,210.87 279.82,195.30 280.40,185.70 C280.98,176.10 281.68,165.92 282.20,158.30 C282.72,150.68 282.98,146.22 283.50,140.00 C284.02,133.78 284.68,126.62 285.30,121.00 C285.92,115.38 286.58,110.78 287.20,106.30 C287.82,101.82 288.40,97.72 289.00,94.10 C289.60,90.48 290.08,87.37 290.80,84.60 C291.52,81.83 292.48,79.37 293.30,77.50 C294.12,75.63 294.90,74.25 295.70,73.40 C296.50,72.55 297.20,72.30 298.10,72.40 C299.00,72.50 300.12,73.10 301.10,74.00 C302.08,74.90 303.02,76.37 304.00,77.80 C304.98,79.23 306.00,80.87 307.00,82.60 C308.00,84.33 309.50,87.27 310.00,88.20" fill="none" stroke="#2ec81e" stroke-width="3.2" stroke-linejoin="round" stroke-linecap="butt"/>
<path d="M310,88.2 L331,130.6 L372,209.3 L395,254.8" stroke="#2ec81e" stroke-width="3.2" fill="none" stroke-linejoin="round"/>
<path d="M313.20,197.00 C314.00,187.50 316.77,154.50 318.00,140.00 C319.23,125.50 319.82,118.33 320.60,110.00 C321.38,101.67 322.15,95.23 322.70,90.00 C323.25,84.77 323.32,82.82 323.90,78.60 C324.48,74.38 325.40,68.58 326.20,64.70 C327.00,60.82 327.78,57.38 328.70,55.30 C329.62,53.22 330.70,52.67 331.70,52.20 C332.70,51.73 333.55,52.03 334.70,52.50 C335.85,52.97 337.12,53.50 338.60,55.00 C340.08,56.50 341.78,59.03 343.60,61.50 C345.42,63.97 347.60,67.17 349.50,69.80 C351.40,72.43 354.08,76.05 355.00,77.30" fill="none" stroke="#1f3be0" stroke-width="3.2" stroke-linejoin="round" stroke-linecap="butt"/>
<path d="M355,77.3 L466.5,254.4" stroke="#1f3be0" stroke-width="3.2" fill="none"/>
<path d="M217.40,251.90 L265.10,251.90 L276.60,217.30 C277.22,212.03 279.38,195.53 280.30,185.70 C281.22,175.87 281.58,165.92 282.10,158.30 C282.62,150.68 282.88,146.22 283.40,140.00 C283.92,133.78 284.58,126.62 285.20,121.00 C285.82,115.38 286.48,110.78 287.10,106.30 C287.72,101.82 288.30,97.75 288.90,94.10 C289.50,90.45 289.98,87.23 290.70,84.40 C291.42,81.57 292.38,79.03 293.20,77.10 C294.02,75.17 294.80,73.72 295.60,72.80 C296.40,71.88 297.08,71.60 298.00,71.60 C298.92,71.60 299.93,71.63 301.10,72.80 C302.27,73.97 303.53,76.48 305.00,78.60 C306.47,80.72 308.33,83.60 309.90,85.50 C311.47,87.40 313.00,90.00 314.40,90.00 C315.80,90.00 317.15,87.73 318.30,85.50 C319.45,83.27 320.38,80.07 321.30,76.60 C322.22,73.13 322.98,68.50 323.80,64.70 C324.62,60.90 325.38,56.68 326.20,53.80 C327.02,50.92 327.78,48.72 328.70,47.40 C329.62,46.08 330.55,45.90 331.70,45.90 C332.85,45.90 334.45,46.78 335.60,47.40 C336.75,48.02 337.43,48.28 338.60,49.60 C339.77,50.92 341.12,53.13 342.60,55.30 C344.08,57.47 345.77,60.23 347.50,62.60 C349.23,64.97 351.08,66.80 353.00,69.55 C354.92,72.29 357.00,75.92 359.00,79.10 C361.00,82.27 363.00,85.44 365.00,88.60 C367.00,91.76 369.00,94.92 371.00,98.06 C373.00,101.20 375.00,104.33 377.00,107.45 C379.00,110.56 381.00,113.67 383.00,116.76 C385.00,119.84 387.00,122.92 389.00,125.97 C391.00,129.02 393.00,132.06 395.00,135.07 C397.00,138.08 399.00,141.08 401.00,144.04 C403.00,147.00 405.00,149.93 407.00,152.83 C409.00,155.73 411.00,158.60 413.00,161.43 C415.00,164.26 417.00,167.05 419.00,169.80 C421.00,172.54 423.00,175.24 425.00,177.88 C427.00,180.53 429.00,183.12 431.00,185.65 C433.00,188.18 435.00,190.65 437.00,193.05 C439.00,195.45 441.00,197.79 443.00,200.04 C445.00,202.30 447.00,204.48 449.00,206.58 C451.00,208.67 453.00,210.69 455.00,212.62 C457.00,214.54 459.00,216.39 461.00,218.14 C463.00,219.89 465.00,221.55 467.00,223.12 C469.00,224.69 471.00,226.17 473.00,227.56 C475.00,228.96 477.00,230.26 479.00,231.48 C481.00,232.69 483.00,233.82 485.00,234.88 C487.00,235.93 489.00,236.90 491.00,237.80 C493.00,238.70 495.00,239.52 497.00,240.29 C499.00,241.05 501.00,241.74 503.00,242.38 C505.00,243.02 507.00,243.60 509.00,244.13 C511.00,244.67 513.00,245.14 515.00,245.59 C517.00,246.03 519.00,246.42 521.00,246.78 C523.00,247.14 525.00,247.46 527.00,247.76 C529.00,248.06 531.00,248.32 533.00,248.56 C535.00,248.80 537.00,249.01 539.00,249.21 C541.00,249.40 543.38,249.60 545.00,249.73 C546.62,249.87 548.08,249.96 548.70,250.01" fill="none" stroke="#000" stroke-width="3.2" stroke-linejoin="round" stroke-linecap="butt"/>
<path d="M280.60,591.50 C281.18,583.75 283.00,557.95 284.10,545.00 C285.20,532.05 286.07,520.63 287.20,513.80 C288.33,506.97 289.68,506.65 290.90,504.00 C292.12,501.35 293.38,499.22 294.50,497.90 C295.62,496.58 296.48,495.90 297.60,496.10 C298.72,496.30 300.60,498.60 301.20,499.10" fill="none" stroke="#2ec81e" stroke-width="3.2" stroke-linejoin="round" stroke-linecap="butt"/>
<path d="M301.2,499.1 L356.8,586.6" stroke="#2ec81e" stroke-width="3.2" fill="none"/>
<path d="M310.40,540.50 C310.77,534.75 311.97,515.75 312.60,506.00 C313.23,496.25 313.70,489.50 314.20,482.00 C314.70,474.50 315.03,468.33 315.60,461.00 C316.17,453.67 316.83,445.33 317.60,438.00 C318.37,430.67 319.47,422.75 320.20,417.00 C320.93,411.25 321.38,407.50 322.00,403.50 C322.62,399.50 323.28,395.98 323.90,393.00 C324.52,390.02 325.00,387.88 325.70,385.60 C326.40,383.32 327.18,380.98 328.10,379.30 C329.02,377.62 330.08,376.30 331.20,375.50 C332.32,374.70 333.75,374.50 334.80,374.50 C335.85,374.50 336.53,374.75 337.50,375.50 C338.47,376.25 339.02,377.08 340.60,379.00 C342.18,380.92 344.87,384.27 347.00,387.00 C349.13,389.73 352.33,394.00 353.40,395.40" fill="none" stroke="#1f3be0" stroke-width="3.2" stroke-linejoin="round" stroke-linecap="butt"/>
<path d="M353.4,395.4 L504.3,591.5" stroke="#1f3be0" stroke-width="3.2" fill="none"/>
<path d="M205.00,566.60 L265.00,566.60 C265.83,566.37 268.50,565.83 270.00,565.20 C271.50,564.57 272.78,563.78 274.00,562.80 C275.22,561.82 276.40,560.77 277.30,559.30 C278.20,557.83 278.78,556.22 279.40,554.00 C280.02,551.78 280.43,549.67 281.00,546.00 C281.57,542.33 282.13,536.42 282.80,532.00 C283.47,527.58 284.30,522.97 285.00,519.50 C285.70,516.03 286.33,513.62 287.00,511.20 C287.67,508.78 288.28,506.87 289.00,505.00 C289.72,503.13 290.52,501.70 291.30,500.00 C292.08,498.30 292.70,495.93 293.70,494.80 C294.70,493.67 296.08,493.30 297.30,493.20 C298.52,493.10 299.88,493.73 301.00,494.20 C302.12,494.67 303.08,495.37 304.00,496.00 C304.92,496.63 305.78,497.90 306.50,498.00 C307.22,498.10 307.70,497.40 308.30,496.60 C308.90,495.80 309.60,494.58 310.10,493.20 C310.60,491.82 310.88,490.65 311.30,488.30 C311.72,485.95 312.18,482.15 312.60,479.10 C313.02,476.05 313.38,473.68 313.80,470.00 C314.22,466.32 314.65,460.83 315.10,457.00 C315.55,453.17 315.95,451.33 316.50,447.00 C317.05,442.67 317.78,436.12 318.40,431.00 C319.02,425.88 319.60,420.98 320.20,416.30 C320.80,411.62 321.38,406.87 322.00,402.90 C322.62,398.93 323.28,395.45 323.90,392.50 C324.52,389.55 325.00,387.57 325.70,385.20 C326.40,382.83 327.18,380.08 328.10,378.30 C329.02,376.52 330.08,375.33 331.20,374.50 C332.32,373.67 333.75,373.33 334.80,373.30 C335.85,373.27 336.53,373.60 337.50,374.30 C338.47,375.00 339.02,375.63 340.60,377.50 C342.18,379.37 344.87,382.85 347.00,385.50 C349.13,388.15 351.27,390.67 353.40,393.40 C355.53,396.13 357.87,399.33 359.80,401.90 C361.73,404.47 362.97,405.92 365.00,408.80 C367.03,411.68 369.83,416.19 372.00,419.21 C374.17,422.22 376.00,424.33 378.00,426.88 C380.00,429.44 382.00,431.98 384.00,434.53 C386.00,437.07 388.00,439.60 390.00,442.13 C392.00,444.65 394.00,447.17 396.00,449.68 C398.00,452.19 400.00,454.69 402.00,457.17 C404.00,459.66 406.00,462.13 408.00,464.59 C410.00,467.05 412.00,469.49 414.00,471.92 C416.00,474.34 418.00,476.75 420.00,479.14 C422.00,481.52 424.00,483.89 426.00,486.22 C428.00,488.56 430.00,490.87 432.00,493.15 C434.00,495.42 436.00,497.68 438.00,499.89 C440.00,502.09 442.00,504.27 444.00,506.40 C446.00,508.53 448.00,510.62 450.00,512.66 C452.00,514.70 454.00,516.69 456.00,518.63 C458.00,520.56 460.00,522.45 462.00,524.27 C464.00,526.08 466.00,527.85 468.00,529.54 C470.00,531.23 472.00,532.86 474.00,534.42 C476.00,535.98 478.00,537.47 480.00,538.89 C482.00,540.30 484.00,541.65 486.00,542.92 C488.00,544.20 490.00,545.40 492.00,546.53 C494.00,547.66 496.00,548.72 498.00,549.71 C500.00,550.70 502.00,551.62 504.00,552.48 C506.00,553.35 508.00,554.14 510.00,554.88 C512.00,555.61 514.00,556.29 516.00,556.92 C518.00,557.54 520.00,558.11 522.00,558.64 C524.00,559.17 526.00,559.64 528.00,560.09 C530.00,560.53 532.00,560.92 534.00,561.29 C536.00,561.65 538.00,561.98 540.00,562.28 C542.00,562.58 544.00,562.85 546.00,563.10 C548.00,563.35 550.00,563.56 552.00,563.77 C554.00,563.97 556.88,564.21 558.00,564.31 C559.12,564.41 558.58,564.36 558.70,564.37" fill="none" stroke="#000" stroke-width="3.2" stroke-linejoin="round" stroke-linecap="butt"/>
<rect x="325" y="19.4" width="15" height="17.5" fill="#fff"/>
<text transform="translate(281.21,38.30) scale(0.9902,1)" font-family="Liberation Sans, sans-serif" font-weight="bold" font-size="17.5">C</text>
<text transform="translate(325.81,35.30) scale(0.9866,1)" font-family="Liberation Sans, sans-serif" font-weight="bold" font-size="17.5">O</text>
<text transform="translate(276.06,486.60) scale(0.9815,1)" font-family="Liberation Sans, sans-serif" font-weight="bold" font-size="17.5">C</text>
<text transform="translate(341.53,366.80) scale(1.0277,1)" font-family="Liberation Sans, sans-serif" font-weight="bold" font-size="17.5">O</text>
<text transform="translate(129.74,131.60) scale(1.0699,1)" font-family="Liberation Sans, sans-serif" font-weight="bold" font-size="17.5">H</text>
<text transform="translate(126.29,469.30) scale(1.0213,1)" font-family="Liberation Sans, sans-serif" font-weight="bold" font-size="17.5">H</text>
</svg></body></html>
